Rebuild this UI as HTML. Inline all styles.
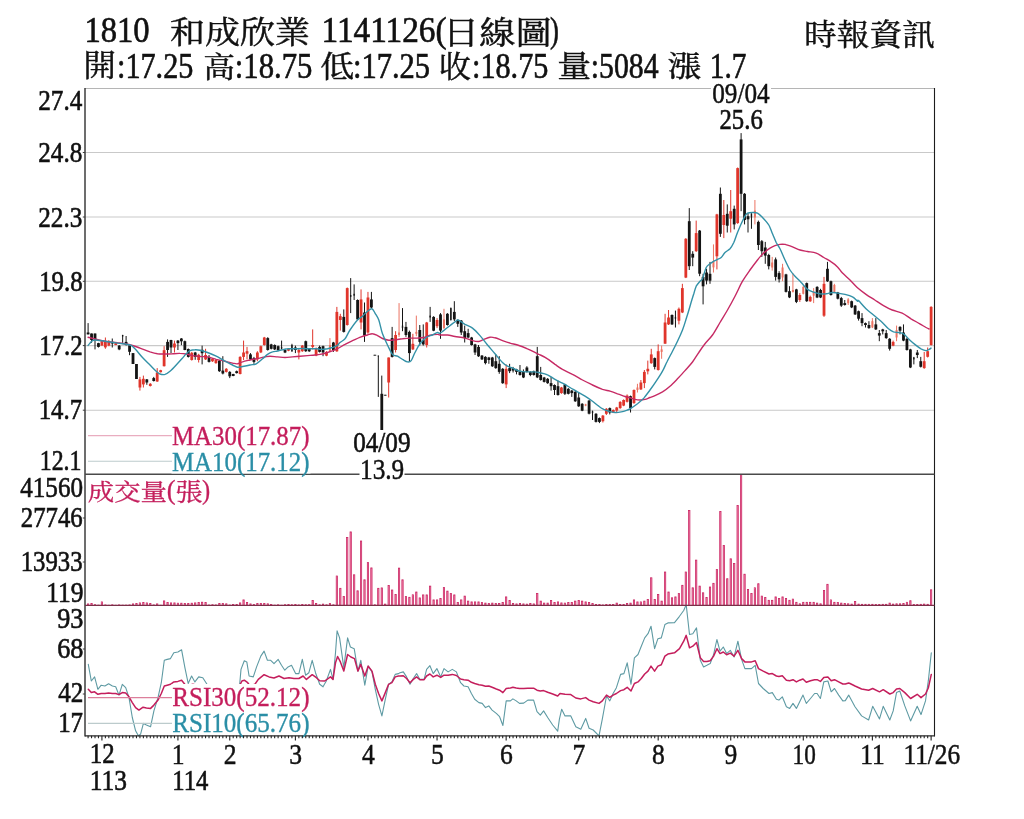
<!DOCTYPE html>
<html lang="zh-Hant"><head><meta charset="utf-8"><title>1810 和成欣業 日線圖</title>
<style>
html,body{margin:0;padding:0;background:#fff;}
svg{display:block;font-family:"Liberation Serif", "Noto Serif CJK SC", "Noto Sans CJK TC", serif;}
</style></head><body>
<svg width="1024" height="819" viewBox="0 0 1024 819">
<rect width="1024" height="819" fill="#fff"/>
<line x1="85" y1="152.5" x2="934.5" y2="152.5" stroke="#c9c9c9" stroke-width="1.1"/>
<line x1="85" y1="217" x2="934.5" y2="217" stroke="#c9c9c9" stroke-width="1.1"/>
<line x1="85" y1="281.3" x2="934.5" y2="281.3" stroke="#c9c9c9" stroke-width="1.1"/>
<line x1="85" y1="345.6" x2="934.5" y2="345.6" stroke="#c9c9c9" stroke-width="1.1"/>
<line x1="85" y1="410.2" x2="934.5" y2="410.2" stroke="#c9c9c9" stroke-width="1.1"/>
<line x1="85" y1="88.5" x2="934.5" y2="88.5" stroke="#b5b5b5" stroke-width="1.1"/>
<g><path d="M88.10 323.1V334.4" stroke="#141414" stroke-width="1"/><rect x="86.70" y="332.5" width="2.8" height="1.9" fill="#141414"/><path d="M91.55 333.5V342.8" stroke="#141414" stroke-width="1"/><rect x="90.15" y="333.5" width="2.8" height="6.5" fill="#141414"/><path d="M95.01 333.5V349.4" stroke="#141414" stroke-width="1"/><rect x="93.61" y="333.5" width="2.8" height="5.9" fill="#141414"/><path d="M98.46 342.8V347.5" stroke="#141414" stroke-width="1"/><rect x="97.06" y="343.1" width="2.8" height="3.8" fill="#141414"/><path d="M101.92 340.6V345.6" stroke="#e0352b" stroke-width="1"/><rect x="100.52" y="341.2" width="2.8" height="4.4" fill="#e0352b"/><path d="M105.38 337.5V348.8" stroke="#e0352b" stroke-width="1"/><rect x="103.97" y="341.2" width="2.8" height="6.2" fill="#e0352b"/><path d="M108.83 340.0V346.2" stroke="#e0352b" stroke-width="1"/><rect x="107.43" y="341.2" width="2.8" height="4.4" fill="#e0352b"/><path d="M112.28 338.5V347.5" stroke="#141414" stroke-width="1"/><rect x="110.88" y="341.9" width="2.8" height="1.6" fill="#141414"/><path d="M115.74 342.8V345.2" stroke="#e0352b" stroke-width="1"/><rect x="114.34" y="343.1" width="2.8" height="1.9" fill="#e0352b"/><path d="M119.19 345.0V350.2" stroke="#141414" stroke-width="1"/><rect x="117.79" y="345.6" width="2.8" height="3.8" fill="#141414"/><path d="M122.65 334.8V342.8" stroke="#141414" stroke-width="1"/><rect x="121.95" y="335.0" width="1.4" height="1.5" fill="#141414"/><path d="M126.10 336.0V345.6" stroke="#141414" stroke-width="1"/><rect x="124.70" y="341.9" width="2.8" height="3.1" fill="#141414"/><path d="M129.56 344.8V355.2" stroke="#141414" stroke-width="1"/><rect x="128.16" y="345.2" width="2.8" height="6.6" fill="#141414"/><path d="M133.01 353.1V364.0" stroke="#141414" stroke-width="1"/><rect x="131.61" y="353.1" width="2.8" height="10.9" fill="#141414"/><path d="M136.47 364.0V379.0" stroke="#141414" stroke-width="1"/><rect x="135.07" y="364.0" width="2.8" height="15.0" fill="#141414"/><path d="M139.93 376.9V390.6" stroke="#e0352b" stroke-width="1"/><rect x="138.53" y="379.4" width="2.8" height="8.1" fill="#e0352b"/><path d="M143.38 375.6V387.5" stroke="#e0352b" stroke-width="1"/><rect x="141.98" y="378.8" width="2.8" height="5.6" fill="#e0352b"/><path d="M146.83 379.0V384.8" stroke="#141414" stroke-width="1"/><rect x="145.43" y="379.4" width="2.8" height="3.1" fill="#141414"/><path d="M150.29 383.1V386.5" stroke="#e0352b" stroke-width="1"/><rect x="148.89" y="383.8" width="2.8" height="2.2" fill="#e0352b"/><path d="M153.75 376.9V381.5" stroke="#141414" stroke-width="1"/><rect x="152.34" y="378.1" width="2.8" height="2.9" fill="#141414"/><path d="M157.20 368.1V381.9" stroke="#e0352b" stroke-width="1"/><rect x="155.80" y="372.5" width="2.8" height="9.0" fill="#e0352b"/><path d="M160.66 369.8V372.5" stroke="#e0352b" stroke-width="1"/><rect x="159.25" y="370.2" width="2.8" height="2.0" fill="#e0352b"/><path d="M164.11 346.2V366.5" stroke="#e0352b" stroke-width="1"/><rect x="162.71" y="350.2" width="2.8" height="16.0" fill="#e0352b"/><path d="M167.56 339.4V356.9" stroke="#141414" stroke-width="1"/><rect x="166.16" y="341.9" width="2.8" height="8.1" fill="#141414"/><path d="M171.02 339.8V353.1" stroke="#141414" stroke-width="1"/><rect x="169.62" y="340.0" width="2.8" height="7.5" fill="#141414"/><path d="M174.47 340.6V352.5" stroke="#e0352b" stroke-width="1"/><rect x="173.07" y="343.5" width="2.8" height="4.0" fill="#e0352b"/><path d="M177.93 340.0V350.0" stroke="#141414" stroke-width="1"/><rect x="176.53" y="340.6" width="2.8" height="2.5" fill="#141414"/><path d="M181.38 338.1V345.2" stroke="#141414" stroke-width="1"/><rect x="179.98" y="338.5" width="2.8" height="2.8" fill="#141414"/><path d="M184.84 340.6V350.2" stroke="#141414" stroke-width="1"/><rect x="183.44" y="341.2" width="2.8" height="8.8" fill="#141414"/><path d="M188.30 348.5V357.5" stroke="#141414" stroke-width="1"/><rect x="186.90" y="349.0" width="2.8" height="7.9" fill="#141414"/><path d="M191.75 351.9V360.6" stroke="#e0352b" stroke-width="1"/><rect x="190.35" y="352.8" width="2.8" height="7.2" fill="#e0352b"/><path d="M195.20 351.9V359.8" stroke="#141414" stroke-width="1"/><rect x="193.80" y="352.5" width="2.8" height="4.4" fill="#141414"/><path d="M198.66 353.8V362.5" stroke="#e0352b" stroke-width="1"/><rect x="197.26" y="354.8" width="2.8" height="5.2" fill="#e0352b"/><path d="M202.12 345.6V364.4" stroke="#141414" stroke-width="1"/><rect x="200.72" y="349.8" width="2.8" height="3.4" fill="#141414"/><path d="M205.57 348.8V360.0" stroke="#e0352b" stroke-width="1"/><rect x="204.17" y="355.0" width="2.8" height="4.4" fill="#e0352b"/><path d="M209.02 355.0V362.5" stroke="#141414" stroke-width="1"/><rect x="207.62" y="356.9" width="2.8" height="5.0" fill="#141414"/><path d="M212.48 358.1V361.9" stroke="#e0352b" stroke-width="1"/><rect x="211.08" y="358.8" width="2.8" height="2.5" fill="#e0352b"/><path d="M215.94 359.4V363.8" stroke="#e0352b" stroke-width="1"/><rect x="214.53" y="360.0" width="2.8" height="3.1" fill="#e0352b"/><path d="M219.39 360.0V371.9" stroke="#141414" stroke-width="1"/><rect x="217.99" y="360.6" width="2.8" height="10.6" fill="#141414"/><path d="M222.84 356.2V374.4" stroke="#141414" stroke-width="1"/><rect x="221.44" y="370.6" width="2.8" height="2.9" fill="#141414"/><path d="M226.30 368.1V372.5" stroke="#e0352b" stroke-width="1"/><rect x="224.90" y="368.8" width="2.8" height="3.1" fill="#e0352b"/><path d="M229.75 371.2V378.1" stroke="#141414" stroke-width="1"/><rect x="228.35" y="371.9" width="2.8" height="4.4" fill="#141414"/><path d="M233.21 373.8V376.2" stroke="#141414" stroke-width="1"/><rect x="231.81" y="374.0" width="2.8" height="2.0" fill="#141414"/><path d="M236.66 370.6V373.5" stroke="#141414" stroke-width="1"/><rect x="235.26" y="371.2" width="2.8" height="1.9" fill="#141414"/><path d="M240.12 356.2V374.4" stroke="#e0352b" stroke-width="1"/><rect x="238.72" y="356.9" width="2.8" height="17.1" fill="#e0352b"/><path d="M243.57 340.6V360.0" stroke="#e0352b" stroke-width="1"/><rect x="242.17" y="352.5" width="2.8" height="4.4" fill="#e0352b"/><path d="M247.03 346.9V359.4" stroke="#e0352b" stroke-width="1"/><rect x="245.63" y="351.2" width="2.8" height="2.5" fill="#e0352b"/><path d="M250.48 353.1V360.0" stroke="#141414" stroke-width="1"/><rect x="249.08" y="354.4" width="2.8" height="5.0" fill="#141414"/><path d="M253.94 356.9V363.8" stroke="#141414" stroke-width="1"/><rect x="252.54" y="358.1" width="2.8" height="3.8" fill="#141414"/><path d="M257.39 351.2V361.2" stroke="#e0352b" stroke-width="1"/><rect x="255.99" y="352.5" width="2.8" height="6.9" fill="#e0352b"/><path d="M260.85 345.6V353.1" stroke="#e0352b" stroke-width="1"/><rect x="259.45" y="346.2" width="2.8" height="6.2" fill="#e0352b"/><path d="M264.31 336.9V345.6" stroke="#e0352b" stroke-width="1"/><rect x="262.91" y="337.5" width="2.8" height="7.5" fill="#e0352b"/><path d="M267.76 337.2V350.6" stroke="#141414" stroke-width="1"/><rect x="266.36" y="338.1" width="2.8" height="11.9" fill="#141414"/><path d="M271.22 343.8V349.4" stroke="#141414" stroke-width="1"/><rect x="269.82" y="344.4" width="2.8" height="4.4" fill="#141414"/><path d="M274.67 344.4V350.0" stroke="#141414" stroke-width="1"/><rect x="273.27" y="345.0" width="2.8" height="4.4" fill="#141414"/><path d="M278.12 345.6V351.2" stroke="#141414" stroke-width="1"/><rect x="276.73" y="346.2" width="2.8" height="3.8" fill="#141414"/><path d="M281.58 340.6V349.4" stroke="#141414" stroke-width="1"/><rect x="280.88" y="346.9" width="1.4" height="1.9" fill="#141414"/><path d="M285.03 349.4V353.1" stroke="#141414" stroke-width="1"/><rect x="283.63" y="350.0" width="2.8" height="2.5" fill="#141414"/><path d="M288.49 348.1V351.2" stroke="#e0352b" stroke-width="1"/><rect x="287.09" y="348.8" width="2.8" height="1.9" fill="#e0352b"/><path d="M291.94 343.8V351.9" stroke="#141414" stroke-width="1"/><rect x="291.25" y="345.0" width="1.4" height="6.2" fill="#141414"/><path d="M295.40 345.6V353.1" stroke="#141414" stroke-width="1"/><rect x="294.00" y="347.5" width="2.8" height="2.5" fill="#141414"/><path d="M298.86 348.8V359.4" stroke="#e0352b" stroke-width="1"/><rect x="297.46" y="350.0" width="2.8" height="2.5" fill="#e0352b"/><path d="M302.31 345.0V351.9" stroke="#e0352b" stroke-width="1"/><rect x="300.91" y="345.6" width="2.8" height="5.6" fill="#e0352b"/><path d="M305.76 340.6V351.9" stroke="#141414" stroke-width="1"/><rect x="304.37" y="341.2" width="2.8" height="10.0" fill="#141414"/><path d="M309.22 348.1V351.9" stroke="#141414" stroke-width="1"/><rect x="307.82" y="348.8" width="2.8" height="2.5" fill="#141414"/><path d="M312.68 329.4V349.4" stroke="#e0352b" stroke-width="1"/><rect x="311.28" y="345.0" width="2.8" height="1.9" fill="#e0352b"/><path d="M316.13 347.5V356.2" stroke="#e0352b" stroke-width="1"/><rect x="314.73" y="348.1" width="2.8" height="7.5" fill="#e0352b"/><path d="M319.59 345.6V352.5" stroke="#141414" stroke-width="1"/><rect x="318.19" y="346.9" width="2.8" height="5.0" fill="#141414"/><path d="M323.04 345.6V356.2" stroke="#141414" stroke-width="1"/><rect x="321.64" y="346.2" width="2.8" height="6.2" fill="#141414"/><path d="M326.50 351.2V356.2" stroke="#e0352b" stroke-width="1"/><rect x="325.10" y="351.9" width="2.8" height="3.8" fill="#e0352b"/><path d="M329.95 338.1V351.9" stroke="#ec7463" stroke-width="1"/><rect x="328.95" y="345.0" width="2.0" height="6.2" fill="#ec7463"/><path d="M333.40 341.9V351.9" stroke="#141414" stroke-width="1"/><rect x="332.00" y="342.5" width="2.8" height="7.5" fill="#141414"/><path d="M336.86 306.9V351.9" stroke="#e0352b" stroke-width="1"/><rect x="335.46" y="311.9" width="2.8" height="39.4" fill="#e0352b"/><path d="M340.31 313.8V330.6" stroke="#e0352b" stroke-width="1"/><rect x="338.92" y="316.2" width="2.8" height="3.8" fill="#e0352b"/><path d="M343.77 309.4V332.5" stroke="#141414" stroke-width="1"/><rect x="342.37" y="316.9" width="2.8" height="15.0" fill="#141414"/><path d="M347.23 287.5V325.6" stroke="#e0352b" stroke-width="1"/><rect x="345.83" y="288.1" width="2.8" height="36.9" fill="#e0352b"/><path d="M350.68 278.1V313.1" stroke="#141414" stroke-width="1"/><rect x="349.98" y="295.0" width="1.4" height="1.9" fill="#141414"/><path d="M354.13 284.4V300.0" stroke="#141414" stroke-width="1"/><rect x="353.44" y="293.8" width="1.4" height="1.9" fill="#141414"/><path d="M357.59 299.4V320.0" stroke="#141414" stroke-width="1"/><rect x="356.19" y="300.0" width="2.8" height="19.4" fill="#141414"/><path d="M361.04 289.4V329.4" stroke="#e0352b" stroke-width="1"/><rect x="359.64" y="299.4" width="2.8" height="23.1" fill="#e0352b"/><path d="M364.50 302.5V341.9" stroke="#141414" stroke-width="1"/><rect x="363.10" y="312.5" width="2.8" height="23.1" fill="#141414"/><path d="M367.96 291.9V333.8" stroke="#e0352b" stroke-width="1"/><rect x="366.56" y="297.5" width="2.8" height="35.0" fill="#e0352b"/><path d="M371.41 291.9V308.1" stroke="#141414" stroke-width="1"/><rect x="370.01" y="299.4" width="2.8" height="8.1" fill="#141414"/><path d="M374.87 354.8V355.5" stroke="#141414" stroke-width="1"/><rect x="373.47" y="354.8" width="2.8" height="0.8" fill="#141414"/><path d="M378.32 355.6V396.9" stroke="#141414" stroke-width="1"/><rect x="377.62" y="355.6" width="1.4" height="0.8" fill="#141414"/><path d="M381.77 375.6V430.0" stroke="#141414" stroke-width="1"/><rect x="380.38" y="393.8" width="2.8" height="36.2" fill="#141414"/><path d="M385.23 394.8V395.5" stroke="#141414" stroke-width="1"/><rect x="383.83" y="394.8" width="2.8" height="0.8" fill="#141414"/><path d="M388.68 357.5V397.5" stroke="#e0352b" stroke-width="1"/><rect x="387.28" y="357.5" width="2.8" height="25.0" fill="#e0352b"/><path d="M392.14 326.9V357.5" stroke="#141414" stroke-width="1"/><rect x="390.74" y="338.1" width="2.8" height="18.8" fill="#141414"/><path d="M395.60 331.2V352.5" stroke="#e0352b" stroke-width="1"/><rect x="394.20" y="335.0" width="2.8" height="15.0" fill="#e0352b"/><path d="M399.05 303.1V336.9" stroke="#ec7463" stroke-width="1"/><rect x="398.05" y="332.5" width="2.0" height="2.5" fill="#ec7463"/><path d="M402.50 308.1V331.2" stroke="#141414" stroke-width="1"/><rect x="401.81" y="325.6" width="1.4" height="2.5" fill="#141414"/><path d="M405.96 321.9V336.9" stroke="#141414" stroke-width="1"/><rect x="404.56" y="326.9" width="2.8" height="8.1" fill="#141414"/><path d="M409.41 330.6V361.2" stroke="#141414" stroke-width="1"/><rect x="408.01" y="331.9" width="2.8" height="21.2" fill="#141414"/><path d="M412.87 333.8V350.0" stroke="#e0352b" stroke-width="1"/><rect x="411.47" y="343.8" width="2.8" height="5.6" fill="#e0352b"/><path d="M416.33 315.6V336.2" stroke="#ec7463" stroke-width="1"/><rect x="415.33" y="331.9" width="2.0" height="1.9" fill="#ec7463"/><path d="M419.78 325.0V345.6" stroke="#141414" stroke-width="1"/><rect x="418.38" y="330.0" width="2.8" height="11.9" fill="#141414"/><path d="M423.24 324.4V345.6" stroke="#141414" stroke-width="1"/><rect x="421.84" y="340.0" width="2.8" height="4.4" fill="#141414"/><path d="M426.69 321.9V347.5" stroke="#e0352b" stroke-width="1"/><rect x="425.29" y="322.5" width="2.8" height="22.5" fill="#e0352b"/><path d="M430.14 306.9V321.9" stroke="#141414" stroke-width="1"/><rect x="429.44" y="315.6" width="1.4" height="1.9" fill="#141414"/><path d="M433.60 316.2V331.2" stroke="#141414" stroke-width="1"/><rect x="432.20" y="316.9" width="2.8" height="13.8" fill="#141414"/><path d="M437.05 318.1V328.1" stroke="#e0352b" stroke-width="1"/><rect x="435.65" y="320.0" width="2.8" height="6.2" fill="#e0352b"/><path d="M440.51 313.1V338.8" stroke="#141414" stroke-width="1"/><rect x="439.11" y="314.4" width="2.8" height="16.2" fill="#141414"/><path d="M443.97 308.8V328.8" stroke="#ec7463" stroke-width="1"/><rect x="442.97" y="319.4" width="2.0" height="8.8" fill="#ec7463"/><path d="M447.42 313.1V325.6" stroke="#141414" stroke-width="1"/><rect x="446.02" y="313.8" width="2.8" height="11.2" fill="#141414"/><path d="M450.88 307.5V320.6" stroke="#141414" stroke-width="1"/><rect x="450.18" y="308.1" width="1.4" height="11.9" fill="#141414"/><path d="M454.33 301.2V321.2" stroke="#141414" stroke-width="1"/><rect x="452.93" y="311.9" width="2.8" height="7.5" fill="#141414"/><path d="M457.78 319.4V326.9" stroke="#141414" stroke-width="1"/><rect x="456.38" y="320.0" width="2.8" height="3.8" fill="#141414"/><path d="M461.24 320.0V335.0" stroke="#141414" stroke-width="1"/><rect x="459.84" y="320.6" width="2.8" height="11.9" fill="#141414"/><path d="M464.70 325.6V342.5" stroke="#141414" stroke-width="1"/><rect x="463.30" y="331.2" width="2.8" height="6.9" fill="#141414"/><path d="M468.15 328.8V338.1" stroke="#141414" stroke-width="1"/><rect x="466.75" y="333.1" width="2.8" height="4.4" fill="#141414"/><path d="M471.61 336.9V345.6" stroke="#141414" stroke-width="1"/><rect x="470.21" y="337.5" width="2.8" height="7.5" fill="#141414"/><path d="M475.06 343.8V355.0" stroke="#141414" stroke-width="1"/><rect x="473.66" y="344.4" width="2.8" height="8.1" fill="#141414"/><path d="M478.51 345.0V356.9" stroke="#141414" stroke-width="1"/><rect x="477.12" y="346.9" width="2.8" height="9.4" fill="#141414"/><path d="M481.97 355.0V360.0" stroke="#141414" stroke-width="1"/><rect x="480.57" y="355.6" width="2.8" height="3.8" fill="#141414"/><path d="M485.42 356.2V364.4" stroke="#141414" stroke-width="1"/><rect x="484.02" y="356.9" width="2.8" height="6.2" fill="#141414"/><path d="M488.88 356.9V363.8" stroke="#141414" stroke-width="1"/><rect x="487.48" y="357.5" width="2.8" height="2.5" fill="#141414"/><path d="M492.34 356.9V366.9" stroke="#141414" stroke-width="1"/><rect x="490.94" y="357.5" width="2.8" height="8.8" fill="#141414"/><path d="M495.79 354.4V368.8" stroke="#141414" stroke-width="1"/><rect x="494.39" y="361.2" width="2.8" height="6.9" fill="#141414"/><path d="M499.25 356.2V373.8" stroke="#141414" stroke-width="1"/><rect x="497.85" y="363.8" width="2.8" height="8.1" fill="#141414"/><path d="M502.70 368.1V383.8" stroke="#141414" stroke-width="1"/><rect x="501.30" y="368.8" width="2.8" height="14.4" fill="#141414"/><path d="M506.15 364.4V388.1" stroke="#e0352b" stroke-width="1"/><rect x="504.75" y="368.8" width="2.8" height="15.6" fill="#e0352b"/><path d="M509.61 363.8V373.1" stroke="#141414" stroke-width="1"/><rect x="508.21" y="368.1" width="2.8" height="3.1" fill="#141414"/><path d="M513.07 366.9V372.5" stroke="#141414" stroke-width="1"/><rect x="511.67" y="368.1" width="2.8" height="2.5" fill="#141414"/><path d="M516.52 368.8V374.4" stroke="#141414" stroke-width="1"/><rect x="515.12" y="369.4" width="2.8" height="2.5" fill="#141414"/><path d="M519.98 365.0V375.6" stroke="#141414" stroke-width="1"/><rect x="518.58" y="371.2" width="2.8" height="3.8" fill="#141414"/><path d="M523.43 369.4V378.1" stroke="#141414" stroke-width="1"/><rect x="522.03" y="371.9" width="2.8" height="5.6" fill="#141414"/><path d="M526.88 366.2V372.5" stroke="#141414" stroke-width="1"/><rect x="525.49" y="367.5" width="2.8" height="4.4" fill="#141414"/><path d="M530.34 371.2V376.2" stroke="#141414" stroke-width="1"/><rect x="528.94" y="371.9" width="2.8" height="3.1" fill="#141414"/><path d="M533.79 370.6V375.6" stroke="#141414" stroke-width="1"/><rect x="532.39" y="371.2" width="2.8" height="3.8" fill="#141414"/><path d="M537.25 346.9V378.1" stroke="#141414" stroke-width="1"/><rect x="535.85" y="356.2" width="2.8" height="21.2" fill="#141414"/><path d="M540.71 366.9V380.6" stroke="#141414" stroke-width="1"/><rect x="539.31" y="375.0" width="2.8" height="5.0" fill="#141414"/><path d="M544.16 376.9V382.5" stroke="#141414" stroke-width="1"/><rect x="542.76" y="377.5" width="2.8" height="4.4" fill="#141414"/><path d="M547.62 378.1V383.8" stroke="#141414" stroke-width="1"/><rect x="546.22" y="378.8" width="2.8" height="4.4" fill="#141414"/><path d="M551.07 376.9V390.6" stroke="#141414" stroke-width="1"/><rect x="549.67" y="383.1" width="2.8" height="3.1" fill="#141414"/><path d="M554.52 384.4V395.0" stroke="#141414" stroke-width="1"/><rect x="553.12" y="385.0" width="2.8" height="5.0" fill="#141414"/><path d="M557.98 380.6V395.6" stroke="#141414" stroke-width="1"/><rect x="556.58" y="386.2" width="2.8" height="8.8" fill="#141414"/><path d="M561.44 386.9V393.8" stroke="#e0352b" stroke-width="1"/><rect x="560.04" y="387.5" width="2.8" height="5.6" fill="#e0352b"/><path d="M564.89 383.8V395.0" stroke="#141414" stroke-width="1"/><rect x="563.49" y="384.4" width="2.8" height="9.4" fill="#141414"/><path d="M568.35 388.1V394.4" stroke="#141414" stroke-width="1"/><rect x="566.95" y="388.8" width="2.8" height="5.0" fill="#141414"/><path d="M571.80 390.0V396.9" stroke="#141414" stroke-width="1"/><rect x="570.40" y="390.6" width="2.8" height="2.5" fill="#141414"/><path d="M575.25 390.6V401.9" stroke="#141414" stroke-width="1"/><rect x="573.86" y="391.9" width="2.8" height="9.4" fill="#141414"/><path d="M578.71 392.5V406.9" stroke="#141414" stroke-width="1"/><rect x="577.31" y="397.5" width="2.8" height="8.8" fill="#141414"/><path d="M582.16 403.1V411.2" stroke="#141414" stroke-width="1"/><rect x="580.76" y="403.8" width="2.8" height="6.9" fill="#141414"/><path d="M585.62 403.8V406.2" stroke="#ec7463" stroke-width="1"/><rect x="584.62" y="404.4" width="2.0" height="1.2" fill="#ec7463"/><path d="M589.08 400.0V414.4" stroke="#141414" stroke-width="1"/><rect x="587.68" y="400.6" width="2.8" height="13.1" fill="#141414"/><path d="M592.53 410.6V420.0" stroke="#141414" stroke-width="1"/><rect x="591.83" y="411.2" width="1.4" height="1.9" fill="#141414"/><path d="M595.99 413.1V422.5" stroke="#141414" stroke-width="1"/><rect x="594.59" y="413.8" width="2.8" height="8.1" fill="#141414"/><path d="M599.44 417.5V423.1" stroke="#141414" stroke-width="1"/><rect x="598.04" y="418.1" width="2.8" height="3.8" fill="#141414"/><path d="M602.89 415.0V422.5" stroke="#e0352b" stroke-width="1"/><rect x="601.50" y="415.6" width="2.8" height="5.6" fill="#e0352b"/><path d="M606.35 408.1V415.0" stroke="#e0352b" stroke-width="1"/><rect x="604.95" y="408.8" width="2.8" height="5.0" fill="#e0352b"/><path d="M609.81 407.5V414.4" stroke="#141414" stroke-width="1"/><rect x="608.41" y="408.1" width="2.8" height="4.4" fill="#141414"/><path d="M613.26 409.4V413.1" stroke="#e0352b" stroke-width="1"/><rect x="611.86" y="410.0" width="2.8" height="2.5" fill="#e0352b"/><path d="M616.72 406.9V413.1" stroke="#e0352b" stroke-width="1"/><rect x="615.32" y="407.5" width="2.8" height="3.1" fill="#e0352b"/><path d="M620.17 401.2V408.8" stroke="#e0352b" stroke-width="1"/><rect x="618.77" y="401.9" width="2.8" height="6.2" fill="#e0352b"/><path d="M623.62 399.4V406.2" stroke="#e0352b" stroke-width="1"/><rect x="622.23" y="400.0" width="2.8" height="5.6" fill="#e0352b"/><path d="M627.08 394.4V402.5" stroke="#e0352b" stroke-width="1"/><rect x="625.68" y="395.6" width="2.8" height="6.2" fill="#e0352b"/><path d="M630.54 395.6V412.5" stroke="#141414" stroke-width="1"/><rect x="629.14" y="396.2" width="2.8" height="11.9" fill="#141414"/><path d="M633.99 389.4V403.8" stroke="#e0352b" stroke-width="1"/><rect x="632.59" y="390.0" width="2.8" height="13.1" fill="#e0352b"/><path d="M637.45 383.8V392.5" stroke="#ec7463" stroke-width="1"/><rect x="636.45" y="387.5" width="2.0" height="2.5" fill="#ec7463"/><path d="M640.90 380.0V390.0" stroke="#e0352b" stroke-width="1"/><rect x="639.50" y="382.5" width="2.8" height="6.9" fill="#e0352b"/><path d="M644.36 370.0V388.1" stroke="#e0352b" stroke-width="1"/><rect x="642.96" y="371.9" width="2.8" height="11.2" fill="#e0352b"/><path d="M647.81 360.6V374.4" stroke="#e0352b" stroke-width="1"/><rect x="646.41" y="368.8" width="2.8" height="2.5" fill="#e0352b"/><path d="M651.26 348.8V363.8" stroke="#e0352b" stroke-width="1"/><rect x="649.87" y="354.4" width="2.8" height="8.8" fill="#e0352b"/><path d="M654.72 357.5V369.4" stroke="#141414" stroke-width="1"/><rect x="653.32" y="358.1" width="2.8" height="8.8" fill="#141414"/><path d="M658.18 344.4V370.6" stroke="#e0352b" stroke-width="1"/><rect x="656.78" y="351.2" width="2.8" height="18.8" fill="#e0352b"/><path d="M661.63 345.6V358.8" stroke="#ec7463" stroke-width="1"/><rect x="660.63" y="349.4" width="2.0" height="2.5" fill="#ec7463"/><path d="M665.09 313.8V343.8" stroke="#e0352b" stroke-width="1"/><rect x="663.69" y="322.5" width="2.8" height="21.2" fill="#e0352b"/><path d="M668.54 310.0V325.0" stroke="#e0352b" stroke-width="1"/><rect x="667.14" y="317.5" width="2.8" height="6.9" fill="#e0352b"/><path d="M672.00 314.4V325.0" stroke="#141414" stroke-width="1"/><rect x="670.60" y="315.0" width="2.8" height="9.4" fill="#141414"/><path d="M675.45 310.6V327.5" stroke="#141414" stroke-width="1"/><rect x="674.75" y="316.9" width="1.4" height="1.9" fill="#141414"/><path d="M678.91 307.5V324.4" stroke="#e0352b" stroke-width="1"/><rect x="677.51" y="308.8" width="2.8" height="11.9" fill="#e0352b"/><path d="M682.36 283.8V313.1" stroke="#e0352b" stroke-width="1"/><rect x="680.96" y="288.1" width="2.8" height="24.4" fill="#e0352b"/><path d="M685.82 238.1V278.1" stroke="#e0352b" stroke-width="1"/><rect x="684.42" y="238.8" width="2.8" height="38.8" fill="#e0352b"/><path d="M689.27 208.1V270.0" stroke="#141414" stroke-width="1"/><rect x="687.87" y="221.2" width="2.8" height="45.0" fill="#141414"/><path d="M692.73 251.2V266.2" stroke="#141414" stroke-width="1"/><rect x="691.33" y="253.8" width="2.8" height="3.8" fill="#141414"/><path d="M696.18 220.6V251.9" stroke="#e0352b" stroke-width="1"/><rect x="694.78" y="233.1" width="2.8" height="18.1" fill="#e0352b"/><path d="M699.63 230.0V276.2" stroke="#141414" stroke-width="1"/><rect x="698.24" y="230.6" width="2.8" height="43.1" fill="#141414"/><path d="M703.09 273.8V304.4" stroke="#141414" stroke-width="1"/><rect x="701.69" y="276.9" width="2.8" height="9.4" fill="#141414"/><path d="M706.55 268.8V284.4" stroke="#141414" stroke-width="1"/><rect x="705.15" y="272.5" width="2.8" height="8.1" fill="#141414"/><path d="M710.00 261.9V283.8" stroke="#141414" stroke-width="1"/><rect x="708.60" y="273.8" width="2.8" height="6.9" fill="#141414"/><path d="M713.46 244.4V272.5" stroke="#ec7463" stroke-width="1"/><rect x="712.46" y="261.2" width="2.0" height="6.2" fill="#ec7463"/><path d="M716.91 213.8V269.4" stroke="#e0352b" stroke-width="1"/><rect x="715.51" y="214.4" width="2.8" height="41.9" fill="#e0352b"/><path d="M720.37 187.5V236.9" stroke="#141414" stroke-width="1"/><rect x="718.97" y="193.8" width="2.8" height="40.0" fill="#141414"/><path d="M723.82 200.0V238.1" stroke="#e0352b" stroke-width="1"/><rect x="722.42" y="215.0" width="2.8" height="10.0" fill="#e0352b"/><path d="M727.28 204.4V232.5" stroke="#141414" stroke-width="1"/><rect x="725.88" y="213.8" width="2.8" height="11.9" fill="#141414"/><path d="M730.73 190.0V232.5" stroke="#e0352b" stroke-width="1"/><rect x="729.33" y="211.2" width="2.8" height="7.5" fill="#e0352b"/><path d="M734.19 205.6V229.4" stroke="#141414" stroke-width="1"/><rect x="732.79" y="208.8" width="2.8" height="15.6" fill="#141414"/><path d="M737.64 167.5V223.8" stroke="#e0352b" stroke-width="1"/><rect x="736.24" y="168.1" width="2.8" height="55.0" fill="#e0352b"/><path d="M741.10 133.1V211.2" stroke="#141414" stroke-width="1"/><rect x="739.70" y="139.4" width="2.8" height="54.4" fill="#141414"/><path d="M744.55 193.1V224.4" stroke="#141414" stroke-width="1"/><rect x="743.15" y="193.8" width="2.8" height="26.2" fill="#141414"/><path d="M748.00 213.1V232.5" stroke="#141414" stroke-width="1"/><rect x="746.61" y="216.2" width="2.8" height="3.1" fill="#141414"/><path d="M751.46 213.1V228.8" stroke="#141414" stroke-width="1"/><rect x="750.76" y="213.8" width="1.4" height="3.8" fill="#141414"/><path d="M754.92 200.0V224.4" stroke="#ec7463" stroke-width="1"/><rect x="753.92" y="210.6" width="2.0" height="6.9" fill="#ec7463"/><path d="M758.37 220.6V250.0" stroke="#141414" stroke-width="1"/><rect x="756.97" y="221.9" width="2.8" height="23.1" fill="#141414"/><path d="M761.83 240.0V256.9" stroke="#141414" stroke-width="1"/><rect x="760.43" y="241.2" width="2.8" height="10.0" fill="#141414"/><path d="M765.28 241.9V263.8" stroke="#141414" stroke-width="1"/><rect x="763.88" y="247.5" width="2.8" height="8.1" fill="#141414"/><path d="M768.74 253.8V269.4" stroke="#141414" stroke-width="1"/><rect x="767.34" y="255.0" width="2.8" height="11.2" fill="#141414"/><path d="M772.19 256.9V270.6" stroke="#ec7463" stroke-width="1"/><rect x="771.19" y="262.5" width="2.0" height="5.0" fill="#ec7463"/><path d="M775.64 257.5V280.6" stroke="#141414" stroke-width="1"/><rect x="774.25" y="259.4" width="2.8" height="17.5" fill="#141414"/><path d="M779.10 271.2V282.5" stroke="#141414" stroke-width="1"/><rect x="777.70" y="273.1" width="2.8" height="6.2" fill="#141414"/><path d="M782.56 263.8V281.2" stroke="#ec7463" stroke-width="1"/><rect x="781.56" y="267.5" width="2.0" height="10.0" fill="#ec7463"/><path d="M786.01 273.8V292.5" stroke="#141414" stroke-width="1"/><rect x="784.61" y="274.4" width="2.8" height="17.5" fill="#141414"/><path d="M789.47 286.2V298.1" stroke="#141414" stroke-width="1"/><rect x="788.07" y="291.2" width="2.8" height="6.2" fill="#141414"/><path d="M792.92 273.1V292.5" stroke="#ec7463" stroke-width="1"/><rect x="791.92" y="290.0" width="2.0" height="1.9" fill="#ec7463"/><path d="M796.38 288.8V303.1" stroke="#141414" stroke-width="1"/><rect x="794.98" y="289.4" width="2.8" height="12.5" fill="#141414"/><path d="M799.83 293.1V301.9" stroke="#e0352b" stroke-width="1"/><rect x="798.43" y="295.0" width="2.8" height="5.0" fill="#e0352b"/><path d="M803.29 285.6V294.4" stroke="#ec7463" stroke-width="1"/><rect x="802.29" y="286.9" width="2.0" height="6.9" fill="#ec7463"/><path d="M806.74 282.5V301.9" stroke="#141414" stroke-width="1"/><rect x="805.34" y="283.1" width="2.8" height="18.1" fill="#141414"/><path d="M810.20 295.6V301.9" stroke="#e0352b" stroke-width="1"/><rect x="808.80" y="296.9" width="2.8" height="4.4" fill="#e0352b"/><path d="M813.65 288.1V303.1" stroke="#ec7463" stroke-width="1"/><rect x="812.65" y="291.9" width="2.0" height="3.8" fill="#ec7463"/><path d="M817.11 286.2V298.1" stroke="#141414" stroke-width="1"/><rect x="815.71" y="286.9" width="2.8" height="10.6" fill="#141414"/><path d="M820.56 288.8V298.1" stroke="#141414" stroke-width="1"/><rect x="819.16" y="290.0" width="2.8" height="7.5" fill="#141414"/><path d="M824.01 276.9V316.9" stroke="#e0352b" stroke-width="1"/><rect x="822.62" y="283.8" width="2.8" height="31.9" fill="#e0352b"/><path d="M827.47 261.9V281.9" stroke="#141414" stroke-width="1"/><rect x="826.07" y="268.8" width="2.8" height="12.5" fill="#141414"/><path d="M830.93 280.6V295.6" stroke="#141414" stroke-width="1"/><rect x="829.53" y="281.2" width="2.8" height="13.8" fill="#141414"/><path d="M834.38 283.8V292.5" stroke="#ec7463" stroke-width="1"/><rect x="833.38" y="285.0" width="2.0" height="6.9" fill="#ec7463"/><path d="M837.84 291.9V299.4" stroke="#141414" stroke-width="1"/><rect x="836.44" y="292.5" width="2.8" height="6.2" fill="#141414"/><path d="M841.29 296.9V306.9" stroke="#141414" stroke-width="1"/><rect x="839.89" y="298.1" width="2.8" height="7.5" fill="#141414"/><path d="M844.75 300.0V305.6" stroke="#141414" stroke-width="1"/><rect x="843.35" y="303.1" width="2.8" height="1.9" fill="#141414"/><path d="M848.20 298.1V305.0" stroke="#ec7463" stroke-width="1"/><rect x="847.20" y="299.4" width="2.0" height="3.8" fill="#ec7463"/><path d="M851.66 300.6V308.1" stroke="#141414" stroke-width="1"/><rect x="850.26" y="301.2" width="2.8" height="6.2" fill="#141414"/><path d="M855.11 305.0V315.0" stroke="#141414" stroke-width="1"/><rect x="853.71" y="305.6" width="2.8" height="8.8" fill="#141414"/><path d="M858.57 310.6V320.6" stroke="#141414" stroke-width="1"/><rect x="857.17" y="311.2" width="2.8" height="7.5" fill="#141414"/><path d="M862.02 313.1V326.2" stroke="#141414" stroke-width="1"/><rect x="860.62" y="318.1" width="2.8" height="5.0" fill="#141414"/><path d="M865.48 322.5V327.5" stroke="#141414" stroke-width="1"/><rect x="864.08" y="323.1" width="2.8" height="1.9" fill="#141414"/><path d="M868.93 321.2V328.8" stroke="#141414" stroke-width="1"/><rect x="867.53" y="325.0" width="2.8" height="3.1" fill="#141414"/><path d="M872.38 318.1V328.1" stroke="#ec7463" stroke-width="1"/><rect x="871.38" y="321.2" width="2.0" height="6.2" fill="#ec7463"/><path d="M875.84 318.1V330.0" stroke="#141414" stroke-width="1"/><rect x="874.44" y="324.4" width="2.8" height="5.0" fill="#141414"/><path d="M879.30 330.0V341.2" stroke="#141414" stroke-width="1"/><rect x="877.90" y="333.1" width="2.8" height="2.5" fill="#141414"/><path d="M882.75 328.8V334.4" stroke="#141414" stroke-width="1"/><rect x="881.35" y="329.4" width="2.8" height="1.9" fill="#141414"/><path d="M886.21 330.0V338.8" stroke="#141414" stroke-width="1"/><rect x="884.81" y="333.1" width="2.8" height="5.0" fill="#141414"/><path d="M889.66 338.1V350.6" stroke="#141414" stroke-width="1"/><rect x="888.26" y="338.8" width="2.8" height="10.0" fill="#141414"/><path d="M893.12 340.6V346.2" stroke="#e0352b" stroke-width="1"/><rect x="891.72" y="341.9" width="2.8" height="3.8" fill="#e0352b"/><path d="M896.57 325.6V341.2" stroke="#ec7463" stroke-width="1"/><rect x="895.57" y="330.0" width="2.0" height="7.5" fill="#ec7463"/><path d="M900.03 326.2V334.4" stroke="#141414" stroke-width="1"/><rect x="898.63" y="326.9" width="2.8" height="3.8" fill="#141414"/><path d="M903.48 324.4V341.2" stroke="#141414" stroke-width="1"/><rect x="902.08" y="332.5" width="2.8" height="8.1" fill="#141414"/><path d="M906.94 337.5V350.6" stroke="#141414" stroke-width="1"/><rect x="905.54" y="338.8" width="2.8" height="11.2" fill="#141414"/><path d="M910.39 348.8V368.1" stroke="#141414" stroke-width="1"/><rect x="908.99" y="349.4" width="2.8" height="18.1" fill="#141414"/><path d="M913.85 356.9V364.4" stroke="#141414" stroke-width="1"/><rect x="913.14" y="357.5" width="1.4" height="1.9" fill="#141414"/><path d="M917.30 350.0V358.1" stroke="#141414" stroke-width="1"/><rect x="915.90" y="352.5" width="2.8" height="2.5" fill="#141414"/><path d="M920.75 356.9V367.5" stroke="#141414" stroke-width="1"/><rect x="919.36" y="361.2" width="2.8" height="5.6" fill="#141414"/><path d="M924.21 351.9V368.8" stroke="#e0352b" stroke-width="1"/><rect x="922.81" y="361.2" width="2.8" height="6.9" fill="#e0352b"/><path d="M927.67 347.5V357.5" stroke="#e0352b" stroke-width="1"/><rect x="926.27" y="351.2" width="2.8" height="5.6" fill="#e0352b"/><path d="M931.12 306.2V345.6" stroke="#e0352b" stroke-width="1"/><rect x="929.72" y="306.9" width="2.8" height="38.1" fill="#e0352b"/></g>
<path d="M88.1 337.2C89.3 337.5 92.2 338.3 95.0 339.0C97.8 339.7 101.2 340.6 105.0 341.2C108.8 341.9 113.3 342.2 117.5 342.8C121.7 343.3 126.2 343.9 130.0 344.8C133.8 345.6 136.7 346.9 140.0 348.1C143.3 349.3 147.1 350.9 150.0 351.9C152.9 352.8 155.0 353.4 157.5 353.8C160.0 354.1 162.5 354.0 165.0 354.0C167.5 354.0 170.0 353.9 172.5 353.8C175.0 353.6 177.7 353.3 180.0 353.4C182.3 353.4 184.2 353.6 186.2 354.0C188.3 354.4 190.2 355.2 192.5 355.6C194.8 356.0 197.5 356.3 200.0 356.5C202.5 356.7 204.8 356.4 207.5 356.9C210.2 357.4 213.3 358.6 216.2 359.4C219.2 360.1 222.3 360.6 225.0 361.2C227.7 361.9 230.4 362.7 232.5 363.1C234.6 363.5 235.8 364.0 237.5 363.8C239.2 363.5 240.4 362.5 242.5 361.9C244.6 361.2 247.5 360.6 250.0 360.0C252.5 359.4 255.0 359.0 257.5 358.5C260.0 358.0 262.9 357.2 265.0 356.9C267.1 356.5 267.9 356.2 270.0 356.2C272.1 356.2 275.0 356.7 277.5 356.9C280.0 357.1 282.5 357.5 285.0 357.5C287.5 357.5 290.0 357.1 292.5 356.9C295.0 356.7 297.5 356.5 300.0 356.2C302.5 356.0 305.0 355.8 307.5 355.6C310.0 355.4 312.9 355.2 315.0 355.0C317.1 354.8 317.9 354.8 320.0 354.4C322.1 354.0 324.8 353.3 327.5 352.5C330.2 351.7 333.3 350.7 336.2 349.4C339.2 348.0 342.3 345.8 345.0 344.4C347.7 342.9 349.8 341.9 352.5 340.6C355.2 339.4 358.8 337.8 361.2 336.9C363.8 335.9 365.6 335.5 367.5 335.0C369.4 334.5 370.8 333.6 372.5 333.8C374.2 333.9 375.8 334.8 377.5 335.6C379.2 336.4 380.6 337.7 382.5 338.5C384.4 339.3 386.7 340.0 388.8 340.2C390.8 340.5 392.7 340.0 395.0 339.8C397.3 339.5 400.0 339.0 402.5 338.8C405.0 338.5 407.5 338.2 410.0 338.1C412.5 338.0 415.2 338.2 417.5 338.1C419.8 338.0 421.7 338.0 423.8 337.5C425.8 337.0 427.7 335.8 430.0 335.2C432.3 334.7 435.8 334.4 437.5 334.4C439.2 334.3 438.3 334.9 440.0 335.0C441.7 335.1 445.0 334.8 447.5 335.0C450.0 335.2 452.1 336.0 455.0 336.5C457.9 337.0 462.1 337.4 465.0 338.1C467.9 338.8 470.2 340.1 472.5 340.6C474.8 341.2 476.9 341.7 478.8 341.5C480.6 341.3 481.9 340.1 483.8 339.4C485.6 338.7 488.1 337.5 490.0 337.2C491.9 337.0 492.9 337.2 495.0 337.8C497.1 338.3 500.0 339.7 502.5 340.6C505.0 341.5 507.5 342.4 510.0 343.1C512.5 343.9 514.6 344.1 517.5 345.0C520.4 345.9 524.2 347.3 527.5 348.8C530.8 350.2 535.4 352.8 537.5 353.8C539.6 354.8 538.3 353.9 540.0 354.8C541.7 355.6 545.0 357.1 547.5 358.8C550.0 360.4 552.5 362.6 555.0 364.4C557.5 366.1 559.6 367.7 562.5 369.4C565.4 371.0 569.2 372.6 572.5 374.4C575.8 376.1 579.2 378.2 582.5 380.0C585.8 381.8 589.2 383.4 592.5 385.0C595.8 386.6 599.6 388.3 602.5 389.4C605.4 390.4 607.5 390.5 610.0 391.2C612.5 392.0 615.0 392.9 617.5 393.8C620.0 394.6 622.9 395.8 625.0 396.5C627.1 397.2 628.3 397.3 630.0 397.8C631.7 398.2 633.3 399.0 635.0 399.4C636.7 399.8 638.3 400.0 640.0 400.0C641.7 400.0 643.3 399.8 645.0 399.4C646.7 399.0 648.3 398.1 650.0 397.5C651.7 396.9 652.9 396.6 655.0 395.6C657.1 394.7 660.0 393.4 662.5 391.9C665.0 390.3 667.5 388.4 670.0 386.2C672.5 384.1 675.0 381.4 677.5 378.8C680.0 376.1 682.5 373.4 685.0 370.6C687.5 367.8 690.2 365.0 692.5 362.0C694.8 359.0 696.7 355.5 698.8 352.5C700.8 349.5 702.7 346.7 705.0 343.8C707.3 340.8 710.0 338.5 712.5 335.0C715.0 331.5 717.5 326.7 720.0 322.5C722.5 318.3 725.0 314.4 727.5 310.0C730.0 305.6 732.5 301.0 735.0 296.2C737.5 291.5 740.0 285.6 742.5 281.2C745.0 276.9 747.5 273.5 750.0 270.0C752.5 266.5 755.8 262.2 757.5 260.0C759.2 257.8 758.8 258.2 760.0 256.9C761.2 255.5 763.3 253.3 765.0 251.9C766.7 250.4 768.3 249.2 770.0 248.1C771.7 247.1 773.3 246.2 775.0 245.6C776.7 245.0 778.3 244.6 780.0 244.4C781.7 244.2 784.0 244.3 785.0 244.4C786.0 244.4 785.0 244.3 786.2 244.8C787.5 245.2 790.2 246.0 792.5 246.9C794.8 247.8 797.5 249.2 800.0 250.0C802.5 250.8 804.8 251.0 807.5 251.5C810.2 252.0 813.5 252.1 816.2 253.1C819.0 254.1 821.2 256.0 823.8 257.5C826.2 259.0 829.0 260.3 831.2 261.9C833.5 263.4 835.6 265.0 837.5 266.9C839.4 268.8 840.4 270.9 842.5 273.1C844.6 275.3 847.5 277.6 850.0 280.0C852.5 282.4 854.6 285.1 857.2 287.5C859.9 289.9 863.1 292.3 866.0 294.4C868.9 296.5 871.8 298.1 874.8 300.0C877.7 301.9 880.6 304.0 883.5 305.6C886.4 307.3 889.1 308.8 892.2 310.0C895.4 311.2 899.1 311.7 902.2 313.1C905.4 314.6 908.1 317.0 911.0 318.8C913.9 320.5 917.2 322.3 919.8 323.8C922.2 325.2 924.4 326.6 926.0 327.5C927.6 328.4 928.6 328.8 929.1 329.0" fill="none" stroke="#c62a64" stroke-width="1.4" stroke-linejoin="round" stroke-linecap="round"/>
<path d="M88.1 345.4C88.4 345.0 89.4 343.8 90.0 343.1C90.6 342.4 91.0 341.8 91.9 341.2C92.7 340.7 92.8 340.0 95.0 340.0C97.2 340.0 101.2 340.7 105.0 341.2C108.8 341.8 113.3 342.5 117.5 343.1C121.7 343.8 127.1 344.1 130.0 345.0C132.9 345.9 132.9 346.7 135.0 348.8C137.1 350.8 140.0 354.8 142.5 357.5C145.0 360.2 147.7 362.7 150.0 365.0C152.3 367.3 154.6 369.8 156.2 371.2C157.9 372.8 158.5 373.5 160.0 374.0C161.5 374.5 163.3 374.8 165.0 374.4C166.7 373.9 168.1 372.8 170.0 371.2C171.9 369.7 174.2 367.2 176.2 365.0C178.3 362.8 180.8 360.0 182.5 358.1C184.2 356.2 185.0 355.0 186.2 353.8C187.5 352.5 188.5 351.3 190.0 350.6C191.5 350.0 193.3 349.8 195.0 349.8C196.7 349.7 197.9 349.8 200.0 350.2C202.1 350.7 204.8 351.5 207.5 352.5C210.2 353.5 213.3 354.8 216.2 356.2C219.2 357.7 222.3 359.8 225.0 361.2C227.7 362.7 230.4 364.0 232.5 365.0C234.6 366.0 235.8 367.0 237.5 367.2C239.2 367.5 240.4 366.9 242.5 366.5C244.6 366.1 247.7 365.5 250.0 365.0C252.3 364.5 254.2 364.8 256.2 363.8C258.3 362.7 260.6 360.3 262.5 358.8C264.4 357.2 265.8 355.5 267.5 354.4C269.2 353.2 270.8 352.4 272.5 351.9C274.2 351.3 275.8 351.4 277.5 351.0C279.2 350.6 280.8 350.1 282.5 349.8C284.2 349.4 285.4 348.9 287.5 348.8C289.6 348.6 292.5 348.8 295.0 348.8C297.5 348.7 300.0 348.5 302.5 348.5C305.0 348.5 307.5 348.7 310.0 348.8C312.5 348.8 315.8 348.6 317.5 348.8C319.2 348.9 318.3 349.4 320.0 349.4C321.7 349.4 324.8 349.3 327.5 348.8C330.2 348.2 334.2 347.3 336.2 346.2C338.3 345.2 338.5 343.8 340.0 342.5C341.5 341.2 343.3 340.8 345.0 338.8C346.7 336.7 347.9 333.1 350.0 330.0C352.1 326.9 355.4 322.3 357.5 320.0C359.6 317.7 360.8 317.7 362.5 316.2C364.2 314.8 365.9 312.5 367.5 311.2C369.1 310.0 370.6 308.4 371.9 308.8C373.1 309.1 373.9 311.2 375.0 313.1C376.1 315.0 377.5 316.6 378.8 320.0C380.0 323.4 381.0 329.6 382.5 333.8C384.0 337.9 385.8 341.6 387.5 345.0C389.2 348.4 390.8 352.5 392.5 354.4C394.2 356.2 395.8 355.4 397.5 356.2C399.2 357.1 400.8 358.4 402.5 359.4C404.2 360.3 406.0 361.7 407.5 361.9C409.0 362.1 410.0 362.2 411.2 360.6C412.5 359.1 413.5 355.3 415.0 352.5C416.5 349.7 418.1 346.2 420.0 343.8C421.9 341.2 424.2 339.0 426.2 337.5C428.3 336.0 430.6 335.8 432.5 335.0C434.4 334.2 436.2 332.8 437.5 332.5C438.8 332.2 438.3 334.0 440.0 333.1C441.7 332.3 445.0 329.4 447.5 327.5C450.0 325.6 453.2 323.1 455.0 321.9C456.8 320.6 456.5 319.6 458.1 320.0C459.8 320.4 462.6 323.0 465.0 324.4C467.4 325.7 470.0 326.2 472.5 328.1C475.0 330.0 477.5 332.8 480.0 335.6C482.5 338.4 485.0 342.0 487.5 345.0C490.0 348.0 492.5 350.8 495.0 353.8C497.5 356.7 500.4 360.4 502.5 362.5C504.6 364.6 505.8 365.3 507.5 366.2C509.2 367.2 510.4 367.3 512.5 368.1C514.6 369.0 517.5 370.6 520.0 371.2C522.5 371.9 525.0 371.8 527.5 371.9C530.0 372.0 532.9 371.7 535.0 371.9C537.1 372.0 537.9 372.3 540.0 372.8C542.1 373.2 545.0 373.6 547.5 374.8C550.0 375.9 552.5 378.0 555.0 379.4C557.5 380.8 560.0 381.8 562.5 383.1C565.0 384.5 567.5 386.0 570.0 387.5C572.5 389.0 575.0 390.4 577.5 391.9C580.0 393.3 582.5 394.7 585.0 396.2C587.5 397.8 590.2 399.6 592.5 401.2C594.8 402.9 596.9 404.9 598.8 406.2C600.6 407.6 602.1 408.5 603.8 409.4C605.4 410.2 606.9 410.7 608.8 411.2C610.6 411.8 612.9 412.4 615.0 412.5C617.1 412.6 619.2 412.3 621.2 411.9C623.3 411.5 625.8 410.6 627.5 410.0C629.2 409.4 629.6 409.2 631.2 408.1C632.9 407.1 635.4 405.4 637.5 403.8C639.6 402.1 641.7 400.4 643.8 398.1C645.8 395.8 647.9 392.8 650.0 390.0C652.1 387.2 654.2 384.4 656.2 381.2C658.3 378.1 660.7 374.5 662.5 371.2C664.3 368.0 665.2 365.3 666.9 362.0C668.5 358.7 670.7 354.7 672.5 351.2C674.3 347.8 675.8 344.8 677.5 341.2C679.2 337.7 681.0 333.8 682.5 330.0C684.0 326.2 685.0 322.7 686.2 318.8C687.5 314.8 688.8 310.4 690.0 306.2C691.2 302.1 692.7 297.1 693.8 293.8C694.8 290.4 695.2 288.3 696.2 286.2C697.3 284.2 699.0 282.5 700.0 281.2C701.0 280.0 701.5 281.0 702.5 278.8C703.5 276.5 705.0 270.0 706.2 267.5C707.5 265.0 708.8 264.8 710.0 263.8C711.2 262.7 712.5 262.0 713.8 261.2C715.0 260.5 716.2 260.0 717.5 259.4C718.8 258.8 720.0 258.6 721.2 257.5C722.5 256.4 723.5 254.0 725.0 252.5C726.5 251.0 728.5 250.4 730.0 248.8C731.5 247.1 732.5 245.2 733.8 242.5C735.0 239.8 736.2 235.6 737.5 232.5C738.8 229.4 740.0 226.5 741.2 223.8C742.5 221.0 744.0 218.0 745.0 216.2C746.0 214.5 746.2 213.8 747.5 213.1C748.8 212.5 750.8 212.5 752.5 212.5C754.2 212.5 755.8 212.3 757.5 213.1C759.2 214.0 760.6 215.5 762.5 217.5C764.4 219.5 767.1 222.3 768.8 225.0C770.4 227.7 771.2 230.8 772.5 233.8C773.8 236.7 775.0 240.0 776.2 242.5C777.5 245.0 778.5 245.8 780.0 248.8C781.5 251.7 783.3 256.5 785.0 260.0C786.7 263.5 788.3 267.3 790.0 270.0C791.7 272.7 793.1 274.2 795.0 276.2C796.9 278.3 799.2 280.3 801.2 282.5C803.3 284.7 805.4 287.8 807.5 289.4C809.6 291.0 811.7 291.5 813.8 292.2C815.8 293.0 817.9 293.5 820.0 293.8C822.1 294.0 824.2 294.0 826.2 293.8C828.3 293.5 830.6 292.6 832.5 292.5C834.4 292.4 835.4 292.8 837.5 293.1C839.6 293.4 842.5 293.8 845.0 294.4C847.5 295.0 850.4 295.7 852.5 296.9C854.6 298.0 856.5 300.6 857.5 301.2C858.5 301.9 857.1 299.4 858.5 300.6C859.9 301.9 863.5 306.4 866.0 308.8C868.5 311.1 871.0 312.9 873.5 315.0C876.0 317.1 878.5 319.0 881.0 321.2C883.5 323.5 886.4 327.0 888.5 328.8C890.6 330.5 891.8 331.2 893.5 331.9C895.2 332.5 896.8 332.2 898.5 332.5C900.2 332.8 901.8 332.7 903.5 333.8C905.2 334.8 906.6 337.0 908.5 338.8C910.4 340.5 912.7 342.7 914.8 344.4C916.8 346.0 919.1 347.7 921.0 348.8C922.9 349.8 924.6 350.5 926.0 350.6C927.4 350.7 928.3 349.8 929.1 349.4C930.0 349.0 930.7 348.3 931.0 348.1" fill="none" stroke="#3391a7" stroke-width="1.4" stroke-linejoin="round" stroke-linecap="round"/>
<g><rect x="87.45" y="603.9" width="1.3" height="1.5" fill="#f58cb0" stroke="#c8205f" stroke-width="0.75"/><rect x="90.90" y="603.4" width="1.3" height="2.0" fill="#f58cb0" stroke="#c8205f" stroke-width="0.75"/><rect x="94.36" y="604.7" width="1.3" height="0.7" fill="#f58cb0" stroke="#c8205f" stroke-width="0.75"/><rect x="97.81" y="605.1" width="1.3" height="0.3" fill="#f58cb0" stroke="#c8205f" stroke-width="0.75"/><rect x="101.27" y="601.9" width="1.3" height="3.5" fill="#f58cb0" stroke="#c8205f" stroke-width="0.75"/><rect x="104.72" y="604.9" width="1.3" height="0.5" fill="#f58cb0" stroke="#c8205f" stroke-width="0.75"/><rect x="108.18" y="605.2" width="1.3" height="0.2" fill="#f58cb0" stroke="#c8205f" stroke-width="0.75"/><rect x="111.63" y="604.8" width="1.3" height="0.6" fill="#f58cb0" stroke="#c8205f" stroke-width="0.75"/><rect x="115.09" y="605.2" width="1.3" height="0.2" fill="#f58cb0" stroke="#c8205f" stroke-width="0.75"/><rect x="118.54" y="604.9" width="1.3" height="0.5" fill="#f58cb0" stroke="#c8205f" stroke-width="0.75"/><rect x="122.00" y="605.1" width="1.3" height="0.3" fill="#f58cb0" stroke="#c8205f" stroke-width="0.75"/><rect x="125.45" y="605.1" width="1.3" height="0.3" fill="#f58cb0" stroke="#c8205f" stroke-width="0.75"/><rect x="128.91" y="604.9" width="1.3" height="0.5" fill="#f58cb0" stroke="#c8205f" stroke-width="0.75"/><rect x="132.36" y="603.9" width="1.3" height="1.5" fill="#f58cb0" stroke="#c8205f" stroke-width="0.75"/><rect x="135.82" y="603.4" width="1.3" height="2.0" fill="#f58cb0" stroke="#c8205f" stroke-width="0.75"/><rect x="139.28" y="602.9" width="1.3" height="2.5" fill="#f58cb0" stroke="#c8205f" stroke-width="0.75"/><rect x="142.73" y="602.4" width="1.3" height="3.0" fill="#f58cb0" stroke="#c8205f" stroke-width="0.75"/><rect x="146.18" y="602.9" width="1.3" height="2.5" fill="#f58cb0" stroke="#c8205f" stroke-width="0.75"/><rect x="149.64" y="603.4" width="1.3" height="2.0" fill="#f58cb0" stroke="#c8205f" stroke-width="0.75"/><rect x="153.09" y="604.9" width="1.3" height="0.5" fill="#f58cb0" stroke="#c8205f" stroke-width="0.75"/><rect x="156.55" y="603.9" width="1.3" height="1.5" fill="#f58cb0" stroke="#c8205f" stroke-width="0.75"/><rect x="160.00" y="605.2" width="1.3" height="0.2" fill="#f58cb0" stroke="#c8205f" stroke-width="0.75"/><rect x="163.46" y="600.9" width="1.3" height="4.5" fill="#f58cb0" stroke="#c8205f" stroke-width="0.75"/><rect x="166.91" y="602.4" width="1.3" height="3.0" fill="#f58cb0" stroke="#c8205f" stroke-width="0.75"/><rect x="170.37" y="602.9" width="1.3" height="2.5" fill="#f58cb0" stroke="#c8205f" stroke-width="0.75"/><rect x="173.82" y="602.9" width="1.3" height="2.5" fill="#f58cb0" stroke="#c8205f" stroke-width="0.75"/><rect x="177.28" y="603.2" width="1.3" height="2.2" fill="#f58cb0" stroke="#c8205f" stroke-width="0.75"/><rect x="180.73" y="603.2" width="1.3" height="2.2" fill="#f58cb0" stroke="#c8205f" stroke-width="0.75"/><rect x="184.19" y="603.4" width="1.3" height="2.0" fill="#f58cb0" stroke="#c8205f" stroke-width="0.75"/><rect x="187.65" y="603.4" width="1.3" height="2.0" fill="#f58cb0" stroke="#c8205f" stroke-width="0.75"/><rect x="191.10" y="603.2" width="1.3" height="2.2" fill="#f58cb0" stroke="#c8205f" stroke-width="0.75"/><rect x="194.55" y="602.9" width="1.3" height="2.5" fill="#f58cb0" stroke="#c8205f" stroke-width="0.75"/><rect x="198.01" y="602.6" width="1.3" height="2.8" fill="#f58cb0" stroke="#c8205f" stroke-width="0.75"/><rect x="201.47" y="602.2" width="1.3" height="3.2" fill="#f58cb0" stroke="#c8205f" stroke-width="0.75"/><rect x="204.92" y="602.4" width="1.3" height="3.0" fill="#f58cb0" stroke="#c8205f" stroke-width="0.75"/><rect x="208.37" y="605.0" width="1.3" height="0.4" fill="#f58cb0" stroke="#c8205f" stroke-width="0.75"/><rect x="211.83" y="604.7" width="1.3" height="0.7" fill="#f58cb0" stroke="#c8205f" stroke-width="0.75"/><rect x="215.28" y="604.9" width="1.3" height="0.5" fill="#f58cb0" stroke="#c8205f" stroke-width="0.75"/><rect x="218.74" y="603.4" width="1.3" height="2.0" fill="#f58cb0" stroke="#c8205f" stroke-width="0.75"/><rect x="222.19" y="603.6" width="1.3" height="1.8" fill="#f58cb0" stroke="#c8205f" stroke-width="0.75"/><rect x="225.65" y="603.8" width="1.3" height="1.6" fill="#f58cb0" stroke="#c8205f" stroke-width="0.75"/><rect x="229.10" y="605.0" width="1.3" height="0.4" fill="#f58cb0" stroke="#c8205f" stroke-width="0.75"/><rect x="232.56" y="604.6" width="1.3" height="0.8" fill="#f58cb0" stroke="#c8205f" stroke-width="0.75"/><rect x="236.01" y="604.6" width="1.3" height="0.8" fill="#f58cb0" stroke="#c8205f" stroke-width="0.75"/><rect x="239.47" y="602.9" width="1.3" height="2.5" fill="#f58cb0" stroke="#c8205f" stroke-width="0.75"/><rect x="242.92" y="599.9" width="1.3" height="5.5" fill="#f58cb0" stroke="#c8205f" stroke-width="0.75"/><rect x="246.38" y="602.4" width="1.3" height="3.0" fill="#f58cb0" stroke="#c8205f" stroke-width="0.75"/><rect x="249.83" y="603.9" width="1.3" height="1.5" fill="#f58cb0" stroke="#c8205f" stroke-width="0.75"/><rect x="253.29" y="604.6" width="1.3" height="0.8" fill="#f58cb0" stroke="#c8205f" stroke-width="0.75"/><rect x="256.75" y="603.6" width="1.3" height="1.8" fill="#f58cb0" stroke="#c8205f" stroke-width="0.75"/><rect x="260.20" y="603.4" width="1.3" height="2.0" fill="#f58cb0" stroke="#c8205f" stroke-width="0.75"/><rect x="263.66" y="603.6" width="1.3" height="1.8" fill="#f58cb0" stroke="#c8205f" stroke-width="0.75"/><rect x="267.11" y="603.8" width="1.3" height="1.6" fill="#f58cb0" stroke="#c8205f" stroke-width="0.75"/><rect x="270.57" y="604.6" width="1.3" height="0.8" fill="#f58cb0" stroke="#c8205f" stroke-width="0.75"/><rect x="274.02" y="605.1" width="1.3" height="0.3" fill="#f58cb0" stroke="#c8205f" stroke-width="0.75"/><rect x="277.48" y="604.8" width="1.3" height="0.6" fill="#f58cb0" stroke="#c8205f" stroke-width="0.75"/><rect x="280.93" y="605.2" width="1.3" height="0.2" fill="#f58cb0" stroke="#c8205f" stroke-width="0.75"/><rect x="284.38" y="604.7" width="1.3" height="0.7" fill="#f58cb0" stroke="#c8205f" stroke-width="0.75"/><rect x="287.84" y="604.6" width="1.3" height="0.8" fill="#f58cb0" stroke="#c8205f" stroke-width="0.75"/><rect x="291.30" y="604.7" width="1.3" height="0.7" fill="#f58cb0" stroke="#c8205f" stroke-width="0.75"/><rect x="294.75" y="604.5" width="1.3" height="0.9" fill="#f58cb0" stroke="#c8205f" stroke-width="0.75"/><rect x="298.21" y="604.9" width="1.3" height="0.5" fill="#f58cb0" stroke="#c8205f" stroke-width="0.75"/><rect x="301.66" y="604.6" width="1.3" height="0.8" fill="#f58cb0" stroke="#c8205f" stroke-width="0.75"/><rect x="305.12" y="604.7" width="1.3" height="0.7" fill="#f58cb0" stroke="#c8205f" stroke-width="0.75"/><rect x="308.57" y="604.7" width="1.3" height="0.7" fill="#f58cb0" stroke="#c8205f" stroke-width="0.75"/><rect x="312.03" y="600.4" width="1.3" height="5.0" fill="#f58cb0" stroke="#c8205f" stroke-width="0.75"/><rect x="315.48" y="603.5" width="1.3" height="1.9" fill="#f58cb0" stroke="#c8205f" stroke-width="0.75"/><rect x="318.94" y="604.8" width="1.3" height="0.6" fill="#f58cb0" stroke="#c8205f" stroke-width="0.75"/><rect x="322.39" y="604.1" width="1.3" height="1.2" fill="#f58cb0" stroke="#c8205f" stroke-width="0.75"/><rect x="325.85" y="604.8" width="1.3" height="0.6" fill="#f58cb0" stroke="#c8205f" stroke-width="0.75"/><rect x="329.30" y="603.5" width="1.3" height="1.9" fill="#f58cb0" stroke="#c8205f" stroke-width="0.75"/><rect x="332.75" y="604.8" width="1.3" height="0.6" fill="#f58cb0" stroke="#c8205f" stroke-width="0.75"/><rect x="336.21" y="576.0" width="1.3" height="29.4" fill="#f58cb0" stroke="#c8205f" stroke-width="0.75"/><rect x="339.67" y="588.3" width="1.3" height="17.1" fill="#f58cb0" stroke="#c8205f" stroke-width="0.75"/><rect x="343.12" y="596.6" width="1.3" height="8.8" fill="#f58cb0" stroke="#c8205f" stroke-width="0.75"/><rect x="346.58" y="537.6" width="1.3" height="67.8" fill="#f58cb0" stroke="#c8205f" stroke-width="0.75"/><rect x="350.03" y="531.9" width="1.3" height="73.5" fill="#f58cb0" stroke="#c8205f" stroke-width="0.75"/><rect x="353.49" y="574.8" width="1.3" height="30.6" fill="#f58cb0" stroke="#c8205f" stroke-width="0.75"/><rect x="356.94" y="590.8" width="1.3" height="14.6" fill="#f58cb0" stroke="#c8205f" stroke-width="0.75"/><rect x="360.39" y="541.0" width="1.3" height="64.4" fill="#f58cb0" stroke="#c8205f" stroke-width="0.75"/><rect x="363.85" y="579.8" width="1.3" height="25.6" fill="#f58cb0" stroke="#c8205f" stroke-width="0.75"/><rect x="367.31" y="562.6" width="1.3" height="42.8" fill="#f58cb0" stroke="#c8205f" stroke-width="0.75"/><rect x="370.76" y="567.9" width="1.3" height="37.5" fill="#f58cb0" stroke="#c8205f" stroke-width="0.75"/><rect x="374.22" y="604.8" width="1.3" height="0.6" fill="#f58cb0" stroke="#c8205f" stroke-width="0.75"/><rect x="377.67" y="588.3" width="1.3" height="17.1" fill="#f58cb0" stroke="#c8205f" stroke-width="0.75"/><rect x="381.12" y="587.9" width="1.3" height="17.5" fill="#f58cb0" stroke="#c8205f" stroke-width="0.75"/><rect x="384.58" y="604.1" width="1.3" height="1.2" fill="#f58cb0" stroke="#c8205f" stroke-width="0.75"/><rect x="388.03" y="585.4" width="1.3" height="20.0" fill="#f58cb0" stroke="#c8205f" stroke-width="0.75"/><rect x="391.49" y="590.0" width="1.3" height="15.4" fill="#f58cb0" stroke="#c8205f" stroke-width="0.75"/><rect x="394.95" y="594.5" width="1.3" height="10.9" fill="#f58cb0" stroke="#c8205f" stroke-width="0.75"/><rect x="398.40" y="568.1" width="1.3" height="37.2" fill="#f58cb0" stroke="#c8205f" stroke-width="0.75"/><rect x="401.86" y="579.8" width="1.3" height="25.6" fill="#f58cb0" stroke="#c8205f" stroke-width="0.75"/><rect x="405.31" y="596.4" width="1.3" height="9.0" fill="#f58cb0" stroke="#c8205f" stroke-width="0.75"/><rect x="408.76" y="597.3" width="1.3" height="8.1" fill="#f58cb0" stroke="#c8205f" stroke-width="0.75"/><rect x="412.22" y="594.8" width="1.3" height="10.6" fill="#f58cb0" stroke="#c8205f" stroke-width="0.75"/><rect x="415.68" y="592.0" width="1.3" height="13.4" fill="#f58cb0" stroke="#c8205f" stroke-width="0.75"/><rect x="419.13" y="597.9" width="1.3" height="7.5" fill="#f58cb0" stroke="#c8205f" stroke-width="0.75"/><rect x="422.59" y="594.9" width="1.3" height="10.5" fill="#f58cb0" stroke="#c8205f" stroke-width="0.75"/><rect x="426.04" y="594.9" width="1.3" height="10.5" fill="#f58cb0" stroke="#c8205f" stroke-width="0.75"/><rect x="429.50" y="586.1" width="1.3" height="19.2" fill="#f58cb0" stroke="#c8205f" stroke-width="0.75"/><rect x="432.95" y="599.9" width="1.3" height="5.5" fill="#f58cb0" stroke="#c8205f" stroke-width="0.75"/><rect x="436.40" y="599.9" width="1.3" height="5.5" fill="#f58cb0" stroke="#c8205f" stroke-width="0.75"/><rect x="439.86" y="598.6" width="1.3" height="6.8" fill="#f58cb0" stroke="#c8205f" stroke-width="0.75"/><rect x="443.32" y="587.4" width="1.3" height="18.0" fill="#f58cb0" stroke="#c8205f" stroke-width="0.75"/><rect x="446.77" y="591.1" width="1.3" height="14.2" fill="#f58cb0" stroke="#c8205f" stroke-width="0.75"/><rect x="450.23" y="593.6" width="1.3" height="11.8" fill="#f58cb0" stroke="#c8205f" stroke-width="0.75"/><rect x="453.68" y="594.9" width="1.3" height="10.5" fill="#f58cb0" stroke="#c8205f" stroke-width="0.75"/><rect x="457.13" y="602.4" width="1.3" height="3.0" fill="#f58cb0" stroke="#c8205f" stroke-width="0.75"/><rect x="460.59" y="599.9" width="1.3" height="5.5" fill="#f58cb0" stroke="#c8205f" stroke-width="0.75"/><rect x="464.05" y="596.1" width="1.3" height="9.2" fill="#f58cb0" stroke="#c8205f" stroke-width="0.75"/><rect x="467.50" y="601.1" width="1.3" height="4.2" fill="#f58cb0" stroke="#c8205f" stroke-width="0.75"/><rect x="470.96" y="601.9" width="1.3" height="3.5" fill="#f58cb0" stroke="#c8205f" stroke-width="0.75"/><rect x="474.41" y="601.9" width="1.3" height="3.5" fill="#f58cb0" stroke="#c8205f" stroke-width="0.75"/><rect x="477.87" y="601.9" width="1.3" height="3.5" fill="#f58cb0" stroke="#c8205f" stroke-width="0.75"/><rect x="481.32" y="602.4" width="1.3" height="3.0" fill="#f58cb0" stroke="#c8205f" stroke-width="0.75"/><rect x="484.77" y="603.1" width="1.3" height="2.2" fill="#f58cb0" stroke="#c8205f" stroke-width="0.75"/><rect x="488.23" y="603.4" width="1.3" height="2.0" fill="#f58cb0" stroke="#c8205f" stroke-width="0.75"/><rect x="491.69" y="603.1" width="1.3" height="2.2" fill="#f58cb0" stroke="#c8205f" stroke-width="0.75"/><rect x="495.14" y="603.6" width="1.3" height="1.8" fill="#f58cb0" stroke="#c8205f" stroke-width="0.75"/><rect x="498.60" y="603.4" width="1.3" height="2.0" fill="#f58cb0" stroke="#c8205f" stroke-width="0.75"/><rect x="502.05" y="602.4" width="1.3" height="3.0" fill="#f58cb0" stroke="#c8205f" stroke-width="0.75"/><rect x="505.50" y="596.9" width="1.3" height="8.5" fill="#f58cb0" stroke="#c8205f" stroke-width="0.75"/><rect x="508.96" y="600.4" width="1.3" height="5.0" fill="#f58cb0" stroke="#c8205f" stroke-width="0.75"/><rect x="512.42" y="603.6" width="1.3" height="1.8" fill="#f58cb0" stroke="#c8205f" stroke-width="0.75"/><rect x="515.87" y="603.9" width="1.3" height="1.5" fill="#f58cb0" stroke="#c8205f" stroke-width="0.75"/><rect x="519.33" y="603.6" width="1.3" height="1.8" fill="#f58cb0" stroke="#c8205f" stroke-width="0.75"/><rect x="522.78" y="603.9" width="1.3" height="1.5" fill="#f58cb0" stroke="#c8205f" stroke-width="0.75"/><rect x="526.24" y="604.1" width="1.3" height="1.2" fill="#f58cb0" stroke="#c8205f" stroke-width="0.75"/><rect x="529.69" y="603.6" width="1.3" height="1.8" fill="#f58cb0" stroke="#c8205f" stroke-width="0.75"/><rect x="533.14" y="603.9" width="1.3" height="1.5" fill="#f58cb0" stroke="#c8205f" stroke-width="0.75"/><rect x="536.60" y="593.6" width="1.3" height="11.8" fill="#f58cb0" stroke="#c8205f" stroke-width="0.75"/><rect x="540.06" y="601.1" width="1.3" height="4.2" fill="#f58cb0" stroke="#c8205f" stroke-width="0.75"/><rect x="543.51" y="603.1" width="1.3" height="2.2" fill="#f58cb0" stroke="#c8205f" stroke-width="0.75"/><rect x="546.97" y="603.1" width="1.3" height="2.2" fill="#f58cb0" stroke="#c8205f" stroke-width="0.75"/><rect x="550.42" y="600.4" width="1.3" height="5.0" fill="#f58cb0" stroke="#c8205f" stroke-width="0.75"/><rect x="553.88" y="602.4" width="1.3" height="3.0" fill="#f58cb0" stroke="#c8205f" stroke-width="0.75"/><rect x="557.33" y="601.9" width="1.3" height="3.5" fill="#f58cb0" stroke="#c8205f" stroke-width="0.75"/><rect x="560.79" y="602.9" width="1.3" height="2.5" fill="#f58cb0" stroke="#c8205f" stroke-width="0.75"/><rect x="564.24" y="603.1" width="1.3" height="2.2" fill="#f58cb0" stroke="#c8205f" stroke-width="0.75"/><rect x="567.70" y="602.4" width="1.3" height="3.0" fill="#f58cb0" stroke="#c8205f" stroke-width="0.75"/><rect x="571.15" y="602.4" width="1.3" height="3.0" fill="#f58cb0" stroke="#c8205f" stroke-width="0.75"/><rect x="574.61" y="601.1" width="1.3" height="4.2" fill="#f58cb0" stroke="#c8205f" stroke-width="0.75"/><rect x="578.06" y="600.6" width="1.3" height="4.8" fill="#f58cb0" stroke="#c8205f" stroke-width="0.75"/><rect x="581.51" y="601.1" width="1.3" height="4.2" fill="#f58cb0" stroke="#c8205f" stroke-width="0.75"/><rect x="584.97" y="601.9" width="1.3" height="3.5" fill="#f58cb0" stroke="#c8205f" stroke-width="0.75"/><rect x="588.43" y="602.4" width="1.3" height="3.0" fill="#f58cb0" stroke="#c8205f" stroke-width="0.75"/><rect x="591.88" y="603.6" width="1.3" height="1.8" fill="#f58cb0" stroke="#c8205f" stroke-width="0.75"/><rect x="595.34" y="604.4" width="1.3" height="1.0" fill="#f58cb0" stroke="#c8205f" stroke-width="0.75"/><rect x="598.79" y="604.6" width="1.3" height="0.8" fill="#f58cb0" stroke="#c8205f" stroke-width="0.75"/><rect x="602.25" y="604.9" width="1.3" height="0.5" fill="#f58cb0" stroke="#c8205f" stroke-width="0.75"/><rect x="605.70" y="604.6" width="1.3" height="0.8" fill="#f58cb0" stroke="#c8205f" stroke-width="0.75"/><rect x="609.16" y="604.6" width="1.3" height="0.8" fill="#f58cb0" stroke="#c8205f" stroke-width="0.75"/><rect x="612.61" y="604.4" width="1.3" height="1.0" fill="#f58cb0" stroke="#c8205f" stroke-width="0.75"/><rect x="616.07" y="603.1" width="1.3" height="2.2" fill="#f58cb0" stroke="#c8205f" stroke-width="0.75"/><rect x="619.52" y="604.4" width="1.3" height="1.0" fill="#f58cb0" stroke="#c8205f" stroke-width="0.75"/><rect x="622.98" y="604.4" width="1.3" height="1.0" fill="#f58cb0" stroke="#c8205f" stroke-width="0.75"/><rect x="626.43" y="603.6" width="1.3" height="1.8" fill="#f58cb0" stroke="#c8205f" stroke-width="0.75"/><rect x="629.89" y="603.1" width="1.3" height="2.2" fill="#f58cb0" stroke="#c8205f" stroke-width="0.75"/><rect x="633.34" y="599.9" width="1.3" height="5.5" fill="#f58cb0" stroke="#c8205f" stroke-width="0.75"/><rect x="636.80" y="601.9" width="1.3" height="3.5" fill="#f58cb0" stroke="#c8205f" stroke-width="0.75"/><rect x="640.25" y="601.9" width="1.3" height="3.5" fill="#f58cb0" stroke="#c8205f" stroke-width="0.75"/><rect x="643.71" y="601.1" width="1.3" height="4.3" fill="#f58cb0" stroke="#c8205f" stroke-width="0.75"/><rect x="647.16" y="599.4" width="1.3" height="6.0" fill="#f58cb0" stroke="#c8205f" stroke-width="0.75"/><rect x="650.62" y="577.8" width="1.3" height="27.6" fill="#f58cb0" stroke="#c8205f" stroke-width="0.75"/><rect x="654.07" y="599.4" width="1.3" height="6.0" fill="#f58cb0" stroke="#c8205f" stroke-width="0.75"/><rect x="657.53" y="594.4" width="1.3" height="11.0" fill="#f58cb0" stroke="#c8205f" stroke-width="0.75"/><rect x="660.98" y="601.1" width="1.3" height="4.3" fill="#f58cb0" stroke="#c8205f" stroke-width="0.75"/><rect x="664.44" y="572.0" width="1.3" height="33.4" fill="#f58cb0" stroke="#c8205f" stroke-width="0.75"/><rect x="667.89" y="592.0" width="1.3" height="13.4" fill="#f58cb0" stroke="#c8205f" stroke-width="0.75"/><rect x="671.35" y="597.8" width="1.3" height="7.6" fill="#f58cb0" stroke="#c8205f" stroke-width="0.75"/><rect x="674.80" y="596.9" width="1.3" height="8.5" fill="#f58cb0" stroke="#c8205f" stroke-width="0.75"/><rect x="678.26" y="593.6" width="1.3" height="11.8" fill="#f58cb0" stroke="#c8205f" stroke-width="0.75"/><rect x="681.71" y="585.3" width="1.3" height="20.1" fill="#f58cb0" stroke="#c8205f" stroke-width="0.75"/><rect x="685.17" y="572.0" width="1.3" height="33.4" fill="#f58cb0" stroke="#c8205f" stroke-width="0.75"/><rect x="688.62" y="510.6" width="1.3" height="94.8" fill="#f58cb0" stroke="#c8205f" stroke-width="0.75"/><rect x="692.08" y="587.8" width="1.3" height="17.6" fill="#f58cb0" stroke="#c8205f" stroke-width="0.75"/><rect x="695.53" y="560.1" width="1.3" height="45.3" fill="#f58cb0" stroke="#c8205f" stroke-width="0.75"/><rect x="698.99" y="586.1" width="1.3" height="19.3" fill="#f58cb0" stroke="#c8205f" stroke-width="0.75"/><rect x="702.44" y="592.8" width="1.3" height="12.6" fill="#f58cb0" stroke="#c8205f" stroke-width="0.75"/><rect x="705.90" y="597.4" width="1.3" height="8.0" fill="#f58cb0" stroke="#c8205f" stroke-width="0.75"/><rect x="709.35" y="587.0" width="1.3" height="18.4" fill="#f58cb0" stroke="#c8205f" stroke-width="0.75"/><rect x="712.81" y="583.3" width="1.3" height="22.1" fill="#f58cb0" stroke="#c8205f" stroke-width="0.75"/><rect x="716.26" y="569.5" width="1.3" height="35.9" fill="#f58cb0" stroke="#c8205f" stroke-width="0.75"/><rect x="719.72" y="511.4" width="1.3" height="94.0" fill="#f58cb0" stroke="#c8205f" stroke-width="0.75"/><rect x="723.17" y="545.5" width="1.3" height="59.9" fill="#f58cb0" stroke="#c8205f" stroke-width="0.75"/><rect x="726.63" y="578.7" width="1.3" height="26.7" fill="#f58cb0" stroke="#c8205f" stroke-width="0.75"/><rect x="730.08" y="558.8" width="1.3" height="46.6" fill="#f58cb0" stroke="#c8205f" stroke-width="0.75"/><rect x="733.54" y="563.4" width="1.3" height="42.0" fill="#f58cb0" stroke="#c8205f" stroke-width="0.75"/><rect x="736.99" y="505.6" width="1.3" height="99.8" fill="#f58cb0" stroke="#c8205f" stroke-width="0.75"/><rect x="740.45" y="474.6" width="1.3" height="130.8" fill="#f58cb0" stroke="#c8205f" stroke-width="0.75"/><rect x="743.90" y="574.2" width="1.3" height="31.2" fill="#f58cb0" stroke="#c8205f" stroke-width="0.75"/><rect x="747.36" y="589.5" width="1.3" height="15.9" fill="#f58cb0" stroke="#c8205f" stroke-width="0.75"/><rect x="750.81" y="593.6" width="1.3" height="11.8" fill="#f58cb0" stroke="#c8205f" stroke-width="0.75"/><rect x="754.27" y="587.8" width="1.3" height="17.6" fill="#f58cb0" stroke="#c8205f" stroke-width="0.75"/><rect x="757.72" y="583.7" width="1.3" height="21.7" fill="#f58cb0" stroke="#c8205f" stroke-width="0.75"/><rect x="761.18" y="596.1" width="1.3" height="9.3" fill="#f58cb0" stroke="#c8205f" stroke-width="0.75"/><rect x="764.63" y="597.4" width="1.3" height="8.0" fill="#f58cb0" stroke="#c8205f" stroke-width="0.75"/><rect x="768.09" y="600.3" width="1.3" height="5.1" fill="#f58cb0" stroke="#c8205f" stroke-width="0.75"/><rect x="771.54" y="600.3" width="1.3" height="5.1" fill="#f58cb0" stroke="#c8205f" stroke-width="0.75"/><rect x="775.00" y="596.9" width="1.3" height="8.5" fill="#f58cb0" stroke="#c8205f" stroke-width="0.75"/><rect x="778.45" y="598.6" width="1.3" height="6.8" fill="#f58cb0" stroke="#c8205f" stroke-width="0.75"/><rect x="781.91" y="596.9" width="1.3" height="8.5" fill="#f58cb0" stroke="#c8205f" stroke-width="0.75"/><rect x="785.36" y="598.6" width="1.3" height="6.8" fill="#f58cb0" stroke="#c8205f" stroke-width="0.75"/><rect x="788.82" y="600.3" width="1.3" height="5.1" fill="#f58cb0" stroke="#c8205f" stroke-width="0.75"/><rect x="792.27" y="599.1" width="1.3" height="6.2" fill="#f58cb0" stroke="#c8205f" stroke-width="0.75"/><rect x="795.73" y="602.3" width="1.3" height="3.1" fill="#f58cb0" stroke="#c8205f" stroke-width="0.75"/><rect x="799.18" y="603.8" width="1.3" height="1.6" fill="#f58cb0" stroke="#c8205f" stroke-width="0.75"/><rect x="802.64" y="602.3" width="1.3" height="3.1" fill="#f58cb0" stroke="#c8205f" stroke-width="0.75"/><rect x="806.09" y="602.3" width="1.3" height="3.1" fill="#f58cb0" stroke="#c8205f" stroke-width="0.75"/><rect x="809.55" y="602.3" width="1.3" height="3.1" fill="#f58cb0" stroke="#c8205f" stroke-width="0.75"/><rect x="813.00" y="602.3" width="1.3" height="3.1" fill="#f58cb0" stroke="#c8205f" stroke-width="0.75"/><rect x="816.46" y="603.1" width="1.3" height="2.3" fill="#f58cb0" stroke="#c8205f" stroke-width="0.75"/><rect x="819.91" y="603.8" width="1.3" height="1.6" fill="#f58cb0" stroke="#c8205f" stroke-width="0.75"/><rect x="823.37" y="590.6" width="1.3" height="14.8" fill="#f58cb0" stroke="#c8205f" stroke-width="0.75"/><rect x="826.82" y="584.3" width="1.3" height="21.1" fill="#f58cb0" stroke="#c8205f" stroke-width="0.75"/><rect x="830.28" y="599.9" width="1.3" height="5.5" fill="#f58cb0" stroke="#c8205f" stroke-width="0.75"/><rect x="833.73" y="602.3" width="1.3" height="3.1" fill="#f58cb0" stroke="#c8205f" stroke-width="0.75"/><rect x="837.19" y="602.6" width="1.3" height="2.8" fill="#f58cb0" stroke="#c8205f" stroke-width="0.75"/><rect x="840.64" y="603.1" width="1.3" height="2.3" fill="#f58cb0" stroke="#c8205f" stroke-width="0.75"/><rect x="844.10" y="603.5" width="1.3" height="1.9" fill="#f58cb0" stroke="#c8205f" stroke-width="0.75"/><rect x="847.55" y="603.8" width="1.3" height="1.6" fill="#f58cb0" stroke="#c8205f" stroke-width="0.75"/><rect x="851.01" y="604.1" width="1.3" height="1.2" fill="#f58cb0" stroke="#c8205f" stroke-width="0.75"/><rect x="854.46" y="601.5" width="1.3" height="3.9" fill="#f58cb0" stroke="#c8205f" stroke-width="0.75"/><rect x="857.92" y="604.1" width="1.3" height="1.2" fill="#f58cb0" stroke="#c8205f" stroke-width="0.75"/><rect x="861.37" y="604.3" width="1.3" height="1.1" fill="#f58cb0" stroke="#c8205f" stroke-width="0.75"/><rect x="864.83" y="604.3" width="1.3" height="1.1" fill="#f58cb0" stroke="#c8205f" stroke-width="0.75"/><rect x="868.28" y="604.3" width="1.3" height="1.1" fill="#f58cb0" stroke="#c8205f" stroke-width="0.75"/><rect x="871.74" y="604.3" width="1.3" height="1.1" fill="#f58cb0" stroke="#c8205f" stroke-width="0.75"/><rect x="875.19" y="604.5" width="1.3" height="0.9" fill="#f58cb0" stroke="#c8205f" stroke-width="0.75"/><rect x="878.65" y="604.5" width="1.3" height="0.9" fill="#f58cb0" stroke="#c8205f" stroke-width="0.75"/><rect x="882.10" y="604.3" width="1.3" height="1.1" fill="#f58cb0" stroke="#c8205f" stroke-width="0.75"/><rect x="885.56" y="604.3" width="1.3" height="1.1" fill="#f58cb0" stroke="#c8205f" stroke-width="0.75"/><rect x="889.01" y="603.1" width="1.3" height="2.3" fill="#f58cb0" stroke="#c8205f" stroke-width="0.75"/><rect x="892.47" y="604.1" width="1.3" height="1.2" fill="#f58cb0" stroke="#c8205f" stroke-width="0.75"/><rect x="895.92" y="603.8" width="1.3" height="1.6" fill="#f58cb0" stroke="#c8205f" stroke-width="0.75"/><rect x="899.38" y="603.8" width="1.3" height="1.6" fill="#f58cb0" stroke="#c8205f" stroke-width="0.75"/><rect x="902.83" y="603.5" width="1.3" height="1.9" fill="#f58cb0" stroke="#c8205f" stroke-width="0.75"/><rect x="906.29" y="602.3" width="1.3" height="3.1" fill="#f58cb0" stroke="#c8205f" stroke-width="0.75"/><rect x="909.74" y="600.7" width="1.3" height="4.7" fill="#f58cb0" stroke="#c8205f" stroke-width="0.75"/><rect x="913.20" y="604.6" width="1.3" height="0.8" fill="#f58cb0" stroke="#c8205f" stroke-width="0.75"/><rect x="916.65" y="604.6" width="1.3" height="0.8" fill="#f58cb0" stroke="#c8205f" stroke-width="0.75"/><rect x="920.11" y="604.3" width="1.3" height="1.1" fill="#f58cb0" stroke="#c8205f" stroke-width="0.75"/><rect x="923.56" y="604.1" width="1.3" height="1.2" fill="#f58cb0" stroke="#c8205f" stroke-width="0.75"/><rect x="927.02" y="604.3" width="1.3" height="1.1" fill="#f58cb0" stroke="#c8205f" stroke-width="0.75"/><rect x="930.47" y="589.8" width="1.3" height="15.6" fill="#f58cb0" stroke="#c8205f" stroke-width="0.75"/></g>
<path d="M88.3 664.4 L91.3 681.0 L94.6 676.9 L97.9 689.3 L101.2 685.2 L104.9 686.0 L108.6 683.8 L112.4 686.0 L115.7 686.8 L119.0 695.1 L122.3 684.3 L125.7 687.7 L129.0 697.6 L132.3 717.5 L135.6 730.8 L138.4 735.8 L140.6 734.1 L143.4 723.4 L146.4 725.0 L150.6 726.7 L153.9 710.9 L158.0 697.6 L161.3 682.7 L164.3 660.3 L167.2 659.4 L170.5 658.6 L173.8 652.8 L177.9 652.0 L181.6 649.8 L184.9 667.7 L188.2 683.5 L191.6 676.0 L194.9 681.9 L198.7 676.9 L202.8 677.7 L207.0 684.3 L211.1 691.0 L217.8 692.6 L224.4 692.6 L231.1 692.6 L236.0 691.0 L239.7 684.3 L241.0 669.4 L244.3 660.8 L246.8 661.9 L249.1 676.0 L253.3 676.9 L256.6 666.9 L260.8 656.1 L264.1 651.1 L267.4 660.3 L270.7 660.3 L274.0 663.6 L278.2 659.4 L281.5 665.3 L284.8 670.2 L288.1 666.9 L291.5 665.3 L295.6 673.6 L298.9 673.6 L302.3 659.4 L305.6 675.2 L308.9 672.7 L312.2 660.3 L315.5 672.7 L319.7 684.3 L323.0 686.8 L326.3 681.0 L330.5 669.4 L333.0 679.4 L335.5 652.8 L337.1 630.9 L339.6 637.9 L343.8 667.7 L347.6 637.9 L350.4 647.0 L354.2 648.7 L357.9 671.1 L360.8 660.3 L364.8 685.2 L368.2 666.1 L372.0 671.9 L375.3 689.3 L378.6 704.3 L381.9 715.9 L385.3 699.3 L388.6 684.3 L391.9 681.9 L395.2 674.4 L398.5 673.6 L400.0 672.7 L403.3 671.9 L406.6 676.9 L410.0 684.3 L413.3 678.5 L416.6 673.6 L419.9 679.4 L424.1 679.4 L426.6 669.4 L429.9 665.7 L433.2 673.6 L436.9 668.6 L440.7 676.9 L444.0 668.6 L448.1 671.9 L452.3 669.4 L456.4 671.9 L460.6 682.7 L463.9 686.0 L468.1 686.8 L471.4 693.5 L474.7 699.3 L478.9 702.6 L482.2 703.4 L485.5 707.6 L488.8 705.9 L492.1 710.1 L496.3 713.4 L499.6 716.7 L502.9 725.5 L506.2 700.9 L510.4 700.9 L512.9 698.9 L516.2 700.9 L519.5 703.4 L523.7 703.1 L527.8 700.1 L533.6 700.1 L537.0 711.7 L540.3 715.1 L543.6 710.9 L547.7 717.5 L552.7 725.0 L557.7 731.2 L559.4 719.2 L561.7 709.2 L565.0 715.9 L570.8 715.9 L575.8 726.7 L580.8 729.2 L585.7 718.4 L589.1 728.3 L593.2 730.0 L599.0 735.8 L602.3 719.2 L606.5 696.0 L609.8 700.9 L613.1 693.5 L616.4 687.7 L620.6 674.4 L623.9 673.6 L627.2 662.8 L631.0 684.3 L634.4 657.8 L638.0 654.5 L641.3 646.2 L644.7 637.9 L648.0 633.7 L651.0 626.2 L654.6 648.7 L657.9 638.7 L661.3 637.9 L664.9 624.6 L667.9 622.9 L674.5 622.6 L679.5 616.3 L683.7 610.5 L686.2 604.7 L689.5 634.5 L692.8 633.7 L696.5 627.9 L700.3 660.3 L703.6 666.9 L706.9 665.3 L710.2 663.6 L713.6 654.5 L716.9 639.5 L720.0 651.1 L723.3 647.0 L726.6 653.6 L730.3 650.3 L734.1 657.0 L737.9 641.2 L741.6 659.4 L744.9 668.6 L751.5 668.6 L755.2 665.3 L758.5 683.5 L763.2 688.5 L769.0 693.5 L772.3 692.6 L776.4 699.3 L778.9 700.1 L782.3 696.8 L786.4 706.8 L789.7 708.4 L793.0 703.4 L796.4 708.4 L799.7 701.8 L803.0 695.1 L806.3 703.4 L810.5 698.5 L814.6 693.5 L817.1 693.5 L820.4 698.5 L823.8 681.9 L827.9 681.0 L831.2 691.8 L834.5 688.5 L838.7 695.1 L842.8 700.9 L845.3 700.6 L848.7 695.1 L850.0 697.6 L855.0 706.8 L861.6 715.9 L868.6 720.0 L872.7 706.3 L879.5 718.9 L883.2 706.3 L889.8 720.0 L893.2 710.9 L896.5 692.6 L899.8 691.0 L904.8 705.9 L910.6 720.9 L917.2 706.3 L921.0 714.6 L925.5 700.9 L928.4 680.2 L931.3 652.8" fill="none" stroke="#5e9aa3" stroke-width="1.1" stroke-linejoin="round" stroke-linecap="round" opacity="1"/>
<path d="M88.3 689.3 L91.3 692.6 L94.6 691.8 L97.9 694.3 L101.2 693.5 L104.9 693.5 L108.6 693.0 L112.4 693.5 L115.7 693.5 L119.0 694.6 L122.3 692.6 L125.7 693.1 L129.0 696.8 L132.3 702.6 L135.6 707.6 L138.9 710.1 L143.1 707.2 L146.4 707.9 L150.6 708.4 L153.9 705.1 L158.0 700.1 L161.3 693.5 L164.3 686.0 L167.2 685.2 L170.5 684.3 L173.8 681.9 L177.9 681.4 L181.6 680.2 L186.2 686.0 L192.9 684.3 L199.5 686.0 L207.0 686.8 L217.8 686.8 L229.4 686.0 L236.0 686.8 L240.2 684.3 L241.9 681.0 L244.3 680.2 L247.7 682.7 L250.0 686.0 L254.9 684.3 L258.3 679.4 L264.1 674.7 L269.1 676.9 L274.0 678.0 L279.0 676.0 L284.0 678.5 L289.0 677.7 L294.0 678.5 L298.9 678.5 L303.1 676.0 L306.4 679.4 L312.2 674.7 L316.4 677.7 L319.7 680.7 L324.7 681.0 L330.5 676.9 L333.0 679.4 L335.5 662.8 L337.6 656.5 L340.4 661.9 L343.8 671.1 L347.6 654.5 L350.9 657.0 L354.5 658.6 L357.9 671.1 L360.8 664.4 L364.8 676.0 L368.2 666.1 L372.0 671.1 L375.3 684.3 L378.6 693.5 L381.9 700.9 L385.3 692.6 L388.6 684.3 L391.9 682.7 L395.2 676.9 L398.5 676.0 L400.0 676.0 L403.3 675.7 L406.6 678.5 L410.0 682.7 L413.3 679.4 L416.6 676.9 L419.9 679.7 L424.1 679.7 L426.6 676.0 L429.9 674.0 L433.2 676.9 L436.9 675.2 L440.7 677.4 L444.0 675.2 L448.1 675.2 L452.3 674.4 L456.4 675.5 L460.6 679.0 L463.9 679.7 L468.1 680.2 L471.4 682.3 L474.7 683.5 L478.9 684.7 L482.2 685.2 L485.5 686.3 L488.8 686.0 L492.1 687.3 L496.3 689.0 L499.6 690.2 L502.9 692.6 L506.2 688.5 L510.4 688.0 L512.9 687.3 L516.2 688.0 L519.5 688.5 L523.7 688.5 L527.8 688.2 L533.6 688.2 L537.0 690.2 L540.3 691.0 L543.6 690.6 L547.7 692.3 L552.7 694.0 L557.7 696.0 L560.0 693.5 L565.0 694.3 L570.8 694.6 L575.8 698.0 L580.8 698.9 L585.7 697.6 L589.1 700.1 L593.2 701.8 L599.0 703.4 L602.3 700.9 L606.5 695.1 L609.8 697.3 L613.1 695.1 L616.4 693.5 L620.6 690.6 L623.9 689.7 L627.2 687.3 L631.0 691.0 L634.4 683.5 L638.0 681.9 L641.3 678.5 L644.7 674.0 L648.0 671.1 L651.0 666.1 L654.6 671.1 L657.9 666.1 L661.3 664.8 L664.9 656.1 L667.9 654.1 L674.5 652.8 L679.5 648.7 L683.7 641.2 L686.2 635.4 L689.5 647.8 L692.8 646.2 L696.5 642.5 L700.3 657.8 L703.6 661.4 L706.9 661.4 L710.2 660.8 L713.6 656.1 L716.9 648.7 L720.0 653.6 L723.3 652.0 L726.6 654.8 L730.3 653.1 L734.1 656.1 L737.9 650.3 L741.6 658.6 L744.9 661.9 L751.5 661.9 L755.2 660.8 L758.5 668.6 L763.2 671.1 L769.0 674.0 L772.3 673.6 L776.4 676.0 L778.9 676.4 L782.3 675.7 L786.4 680.2 L789.7 680.7 L793.0 679.7 L796.4 681.9 L799.7 680.2 L803.0 679.0 L806.3 682.3 L810.5 680.7 L814.6 679.7 L817.1 679.7 L820.4 681.4 L823.8 677.4 L827.9 676.9 L831.2 680.7 L834.5 679.7 L838.7 681.9 L842.8 684.0 L845.3 684.0 L848.7 683.0 L850.0 683.5 L855.0 686.0 L861.6 689.0 L868.6 690.2 L872.7 688.5 L879.5 691.8 L883.2 689.7 L889.8 694.0 L893.2 692.6 L896.5 689.0 L899.8 688.5 L904.8 692.6 L910.6 698.5 L917.2 694.3 L921.0 697.6 L925.5 694.0 L928.4 687.7 L931.3 674.4" fill="none" stroke="#c41e5c" stroke-width="1.5" stroke-linejoin="round" stroke-linecap="round" opacity="1"/>
<line x1="85" y1="88.0" x2="85" y2="736.4" stroke="#3c3c3c" stroke-width="1.5"/>
<line x1="934.5" y1="88.0" x2="934.5" y2="736.4" stroke="#1c1c1c" stroke-width="1.1"/>
<line x1="85" y1="474.3" x2="934.5" y2="474.3" stroke="#4a4a4a" stroke-width="1.4"/>
<line x1="85" y1="605.4" x2="934.5" y2="605.4" stroke="#7a3049" stroke-width="1.2"/>
<line x1="85" y1="735.8" x2="934.5" y2="735.8" stroke="#2a2a2a" stroke-width="1.3"/>
<path d="M82.8 152.5H85M82.8 217H85M82.8 281.3H85M82.8 345.6H85M82.8 410.2H85M82.8 518H85M82.8 562H85M82.8 649H85M82.8 694H85" stroke="#3c3c3c" stroke-width="1"/>
<text x="84.5" y="42.1" font-size="36.2" textLength="65.15" lengthAdjust="spacingAndGlyphs" fill="#111" stroke="#111" stroke-width="0.65">1810</text>
<text x="170.0" y="42.5" font-size="31.06" textLength="140.03" lengthAdjust="spacingAndGlyphs" fill="#111" stroke="#111" stroke-width="0.45">和成欣業</text>
<text x="321.5" y="42.1" font-size="36.2" textLength="125.08" lengthAdjust="spacingAndGlyphs" fill="#111" stroke="#111" stroke-width="0.65">1141126(</text>
<text x="443.0" y="43.5" font-size="32.17" textLength="108.7" lengthAdjust="spacingAndGlyphs" fill="#111" stroke="#111" stroke-width="0.45">日線圖</text>
<text x="550.0" y="42.1" font-size="36.2" textLength="8.87" lengthAdjust="spacingAndGlyphs" fill="#111" stroke="#111" stroke-width="0.65">)</text>
<text x="804.0" y="45.0" font-size="30.0" textLength="131.07" lengthAdjust="spacingAndGlyphs" fill="#111" stroke="#111" stroke-width="0.45">時報資訊</text>
<text x="83.2" y="75.75" font-size="30.18" textLength="32.78" lengthAdjust="spacingAndGlyphs" fill="#111" stroke="#111" stroke-width="0.45">開</text>
<text x="117.0" y="78.1" font-size="36.3" textLength="76.35" lengthAdjust="spacingAndGlyphs" fill="#111" stroke="#111" stroke-width="0.65">:17.25</text>
<text x="203.35" y="77.75" font-size="28.99" textLength="31.78" lengthAdjust="spacingAndGlyphs" fill="#111" stroke="#111" stroke-width="0.45">高</text>
<text x="234.85" y="78.1" font-size="36.3" textLength="77.61" lengthAdjust="spacingAndGlyphs" fill="#111" stroke="#111" stroke-width="0.65">:18.75</text>
<text x="320.35" y="76.75" font-size="30.03" textLength="34.16" lengthAdjust="spacingAndGlyphs" fill="#111" stroke="#111" stroke-width="0.45">低</text>
<text x="353.0" y="78.1" font-size="36.3" textLength="77.13" lengthAdjust="spacingAndGlyphs" fill="#111" stroke="#111" stroke-width="0.65">:17.25</text>
<text x="438.7" y="76.75" font-size="30.03" textLength="32.21" lengthAdjust="spacingAndGlyphs" fill="#111" stroke="#111" stroke-width="0.45">收</text>
<text x="472.0" y="78.1" font-size="36.3" textLength="76.35" lengthAdjust="spacingAndGlyphs" fill="#111" stroke="#111" stroke-width="0.65">:18.75</text>
<text x="557.2" y="77.2" font-size="30.73" textLength="33.88" lengthAdjust="spacingAndGlyphs" fill="#111" stroke="#111" stroke-width="0.45">量</text>
<text x="590.75" y="78.1" font-size="36.3" textLength="67.8" lengthAdjust="spacingAndGlyphs" fill="#111" stroke="#111" stroke-width="0.65">:5084</text>
<text x="667.5" y="76.75" font-size="28.99" textLength="33.96" lengthAdjust="spacingAndGlyphs" fill="#111" stroke="#111" stroke-width="0.45">漲</text>
<text x="709.85" y="78.1" font-size="36.3" textLength="36.62" lengthAdjust="spacingAndGlyphs" fill="#111" stroke="#111" stroke-width="0.65">1.7</text>
<text x="38.2" y="110.3" font-size="29" textLength="44.08" lengthAdjust="spacingAndGlyphs" fill="#111" stroke="#111" stroke-width="0.62">27.4</text>
<text x="38.2" y="161.7" font-size="29" textLength="44.08" lengthAdjust="spacingAndGlyphs" fill="#111" stroke="#111" stroke-width="0.62">24.8</text>
<text x="38.2" y="226.7" font-size="29" textLength="44.08" lengthAdjust="spacingAndGlyphs" fill="#111" stroke="#111" stroke-width="0.62">22.3</text>
<text x="39.2" y="290.7" font-size="29" textLength="43.49" lengthAdjust="spacingAndGlyphs" fill="#111" stroke="#111" stroke-width="0.62">19.8</text>
<text x="39.2" y="355.1" font-size="29" textLength="43.49" lengthAdjust="spacingAndGlyphs" fill="#111" stroke="#111" stroke-width="0.62">17.2</text>
<text x="38.7" y="419.3" font-size="29" textLength="43.43" lengthAdjust="spacingAndGlyphs" fill="#111" stroke="#111" stroke-width="0.62">14.7</text>
<text x="39.8" y="470.4" font-size="29" textLength="41.69" lengthAdjust="spacingAndGlyphs" fill="#111" stroke="#111" stroke-width="0.62">12.1</text>
<text x="20.25" y="496.7" font-size="29" textLength="62.77" lengthAdjust="spacingAndGlyphs" fill="#111" stroke="#111" stroke-width="0.62">41560</text>
<text x="20.75" y="527.2" font-size="29" textLength="62.03" lengthAdjust="spacingAndGlyphs" fill="#111" stroke="#111" stroke-width="0.62">27746</text>
<text x="20.7" y="571.0" font-size="29" textLength="61.91" lengthAdjust="spacingAndGlyphs" fill="#111" stroke="#111" stroke-width="0.62">13933</text>
<text x="46.15" y="601.6" font-size="29" textLength="37.26" lengthAdjust="spacingAndGlyphs" fill="#111" stroke="#111" stroke-width="0.62">119</text>
<text x="57.15" y="628.3" font-size="29" textLength="26.21" lengthAdjust="spacingAndGlyphs" fill="#111" stroke="#111" stroke-width="0.62">93</text>
<text x="57.15" y="657.8" font-size="29" textLength="26.21" lengthAdjust="spacingAndGlyphs" fill="#111" stroke="#111" stroke-width="0.62">68</text>
<text x="58.15" y="701.6" font-size="29" textLength="25.16" lengthAdjust="spacingAndGlyphs" fill="#111" stroke="#111" stroke-width="0.62">42</text>
<text x="58.15" y="732.0" font-size="29" textLength="24.87" lengthAdjust="spacingAndGlyphs" fill="#111" stroke="#111" stroke-width="0.62">17</text>
<text x="89.75" y="763.2" font-size="29" textLength="24.79" lengthAdjust="spacingAndGlyphs" fill="#111" stroke="#111" stroke-width="0.62">12</text>
<text x="89.75" y="789.5" font-size="29" textLength="37.18" lengthAdjust="spacingAndGlyphs" fill="#111" stroke="#111" stroke-width="0.62">113</text>
<text x="172.25" y="789.5" font-size="29" textLength="36.12" lengthAdjust="spacingAndGlyphs" fill="#111" stroke="#111" stroke-width="0.62">114</text>
<text x="719.5" y="128.7" font-size="29" textLength="43.29" lengthAdjust="spacingAndGlyphs" fill="#111" stroke="#111" stroke-width="0.62">25.6</text>
<text x="353.2" y="452.2" font-size="29" textLength="57.35" lengthAdjust="spacingAndGlyphs" fill="#111" stroke="#111" stroke-width="0.62">04/09</text>
<text x="87.7" y="500.0" font-size="22.67" textLength="79.37" lengthAdjust="spacingAndGlyphs" fill="#c41e5c" stroke="#c41e5c" stroke-width="0.3">成交量</text>
<text x="166.8" y="498.8" font-size="27.7" textLength="8.84" lengthAdjust="spacingAndGlyphs" fill="#c41e5c" stroke="#c41e5c" stroke-width="0.3">(</text>
<text x="175.5" y="501.0" font-size="24.64" textLength="27.17" lengthAdjust="spacingAndGlyphs" fill="#c41e5c" stroke="#c41e5c" stroke-width="0.3">張</text>
<text x="202.0" y="498.8" font-size="27.7" textLength="8.21" lengthAdjust="spacingAndGlyphs" fill="#c41e5c" stroke="#c41e5c" stroke-width="0.3">)</text>
<rect x="171.5" y="422" width="139" height="51.5" fill="#fff"/>
<line x1="88" y1="435.6" x2="172" y2="435.6" stroke="#e9adc0" stroke-width="1.1"/>
<line x1="88" y1="461.3" x2="172" y2="461.3" stroke="#bccbcc" stroke-width="1.1"/>
<rect x="171.5" y="684" width="139" height="51" fill="#fff"/>
<line x1="88" y1="697.6" x2="172" y2="697.6" stroke="#dc7f9b" stroke-width="1.2"/>
<line x1="88" y1="723.4" x2="172" y2="723.4" stroke="#bccbcc" stroke-width="1.1"/>
<text x="171.9" y="445.4" font-size="26.8" textLength="137.6" lengthAdjust="spacingAndGlyphs" fill="#c41e5c" stroke="#c41e5c" stroke-width="0.35">MA30(17.87)</text>
<text x="171.9" y="470.9" font-size="26.8" textLength="137.6" lengthAdjust="spacingAndGlyphs" fill="#2a8ea6" stroke="#2a8ea6" stroke-width="0.35">MA10(17.12)</text>
<text x="172.2" y="706" font-size="26.8" textLength="137.3" lengthAdjust="spacingAndGlyphs" fill="#c41e5c" stroke="#c41e5c" stroke-width="0.35">RSI30(52.12)</text>
<text x="172.2" y="731.7" font-size="26.8" textLength="137.3" lengthAdjust="spacingAndGlyphs" fill="#2a8ea6" stroke="#2a8ea6" stroke-width="0.35">RSI10(65.76)</text>
<rect x="711" y="82" width="60" height="22" fill="#fff"/>
<text x="712.2" y="102.8" font-size="29" textLength="57.57" lengthAdjust="spacingAndGlyphs" fill="#111" stroke="#111" stroke-width="0.5">09/04</text>
<rect x="359.5" y="458" width="45" height="22" fill="#fff"/>
<text x="360.0" y="478.8" font-size="29" textLength="44.24" lengthAdjust="spacingAndGlyphs" fill="#111" stroke="#111" stroke-width="0.5">13.9</text>
<path d="M88.10 735.8v2.4M91.55 735.8v2.4M95.01 735.8v2.4M98.46 735.8v2.4M101.92 735.8v4.6M105.38 735.8v2.4M108.83 735.8v2.4M112.28 735.8v2.4M115.74 735.8v2.4M119.19 735.8v2.4M122.65 735.8v2.4M126.10 735.8v2.4M129.56 735.8v2.4M133.01 735.8v2.4M136.47 735.8v2.4M139.93 735.8v2.4M143.38 735.8v2.4M146.83 735.8v2.4M150.29 735.8v2.4M153.75 735.8v2.4M157.20 735.8v2.4M160.66 735.8v2.4M164.11 735.8v2.4M167.56 735.8v2.4M171.02 735.8v2.4M174.47 735.8v2.4M177.93 735.8v4.6M181.38 735.8v2.4M184.84 735.8v2.4M188.30 735.8v2.4M191.75 735.8v2.4M195.20 735.8v2.4M198.66 735.8v2.4M202.12 735.8v2.4M205.57 735.8v2.4M209.02 735.8v2.4M212.48 735.8v2.4M215.94 735.8v2.4M219.39 735.8v2.4M222.84 735.8v2.4M226.30 735.8v2.4M229.75 735.8v4.6M233.21 735.8v2.4M236.66 735.8v2.4M240.12 735.8v2.4M243.57 735.8v2.4M247.03 735.8v2.4M250.48 735.8v2.4M253.94 735.8v2.4M257.39 735.8v2.4M260.85 735.8v2.4M264.31 735.8v2.4M267.76 735.8v2.4M271.22 735.8v2.4M274.67 735.8v2.4M278.12 735.8v2.4M281.58 735.8v2.4M285.03 735.8v2.4M288.49 735.8v2.4M291.94 735.8v2.4M295.40 735.8v4.6M298.86 735.8v2.4M302.31 735.8v2.4M305.76 735.8v2.4M309.22 735.8v2.4M312.68 735.8v2.4M316.13 735.8v2.4M319.59 735.8v2.4M323.04 735.8v2.4M326.50 735.8v2.4M329.95 735.8v2.4M333.40 735.8v2.4M336.86 735.8v2.4M340.31 735.8v2.4M343.77 735.8v2.4M347.23 735.8v2.4M350.68 735.8v2.4M354.13 735.8v2.4M357.59 735.8v2.4M361.04 735.8v2.4M364.50 735.8v2.4M367.96 735.8v4.6M371.41 735.8v2.4M374.87 735.8v2.4M378.32 735.8v2.4M381.77 735.8v2.4M385.23 735.8v2.4M388.68 735.8v2.4M392.14 735.8v2.4M395.60 735.8v2.4M399.05 735.8v2.4M402.50 735.8v2.4M405.96 735.8v2.4M409.41 735.8v2.4M412.87 735.8v2.4M416.33 735.8v2.4M419.78 735.8v2.4M423.24 735.8v2.4M426.69 735.8v2.4M430.14 735.8v2.4M433.60 735.8v2.4M437.05 735.8v4.6M440.51 735.8v2.4M443.97 735.8v2.4M447.42 735.8v2.4M450.88 735.8v2.4M454.33 735.8v2.4M457.78 735.8v2.4M461.24 735.8v2.4M464.70 735.8v2.4M468.15 735.8v2.4M471.61 735.8v2.4M475.06 735.8v2.4M478.51 735.8v2.4M481.97 735.8v2.4M485.42 735.8v2.4M488.88 735.8v2.4M492.34 735.8v2.4M495.79 735.8v2.4M499.25 735.8v2.4M502.70 735.8v2.4M506.15 735.8v4.6M509.61 735.8v2.4M513.07 735.8v2.4M516.52 735.8v2.4M519.98 735.8v2.4M523.43 735.8v2.4M526.88 735.8v2.4M530.34 735.8v2.4M533.79 735.8v2.4M537.25 735.8v2.4M540.71 735.8v2.4M544.16 735.8v2.4M547.62 735.8v2.4M551.07 735.8v2.4M554.52 735.8v2.4M557.98 735.8v2.4M561.44 735.8v2.4M564.89 735.8v2.4M568.35 735.8v2.4M571.80 735.8v2.4M575.25 735.8v2.4M578.71 735.8v4.6M582.16 735.8v2.4M585.62 735.8v2.4M589.08 735.8v2.4M592.53 735.8v2.4M595.99 735.8v2.4M599.44 735.8v2.4M602.89 735.8v2.4M606.35 735.8v2.4M609.81 735.8v2.4M613.26 735.8v2.4M616.72 735.8v2.4M620.17 735.8v2.4M623.62 735.8v2.4M627.08 735.8v2.4M630.54 735.8v2.4M633.99 735.8v2.4M637.45 735.8v2.4M640.90 735.8v2.4M644.36 735.8v2.4M647.81 735.8v2.4M651.26 735.8v2.4M654.72 735.8v2.4M658.18 735.8v4.6M661.63 735.8v2.4M665.09 735.8v2.4M668.54 735.8v2.4M672.00 735.8v2.4M675.45 735.8v2.4M678.91 735.8v2.4M682.36 735.8v2.4M685.82 735.8v2.4M689.27 735.8v2.4M692.73 735.8v2.4M696.18 735.8v2.4M699.63 735.8v2.4M703.09 735.8v2.4M706.55 735.8v2.4M710.00 735.8v2.4M713.46 735.8v2.4M716.91 735.8v2.4M720.37 735.8v2.4M723.82 735.8v2.4M727.28 735.8v2.4M730.73 735.8v4.6M734.19 735.8v2.4M737.64 735.8v2.4M741.10 735.8v2.4M744.55 735.8v2.4M748.00 735.8v2.4M751.46 735.8v2.4M754.92 735.8v2.4M758.37 735.8v2.4M761.83 735.8v2.4M765.28 735.8v2.4M768.74 735.8v2.4M772.19 735.8v2.4M775.64 735.8v2.4M779.10 735.8v2.4M782.56 735.8v2.4M786.01 735.8v2.4M789.47 735.8v2.4M792.92 735.8v2.4M796.38 735.8v2.4M799.83 735.8v2.4M803.29 735.8v4.6M806.74 735.8v2.4M810.20 735.8v2.4M813.65 735.8v2.4M817.11 735.8v2.4M820.56 735.8v2.4M824.01 735.8v2.4M827.47 735.8v2.4M830.93 735.8v2.4M834.38 735.8v2.4M837.84 735.8v2.4M841.29 735.8v2.4M844.75 735.8v2.4M848.20 735.8v2.4M851.66 735.8v2.4M855.11 735.8v2.4M858.57 735.8v2.4M862.02 735.8v2.4M865.48 735.8v2.4M868.93 735.8v2.4M872.38 735.8v4.6M875.84 735.8v2.4M879.30 735.8v2.4M882.75 735.8v2.4M886.21 735.8v2.4M889.66 735.8v2.4M893.12 735.8v2.4M896.57 735.8v2.4M900.03 735.8v2.4M903.48 735.8v2.4M906.94 735.8v2.4M910.39 735.8v2.4M913.85 735.8v2.4M917.30 735.8v2.4M920.75 735.8v2.4M924.21 735.8v2.4M927.67 735.8v2.4M931.12 735.8v4.6" stroke="#222" stroke-width="1.1"/>
<text x="178.2" y="763.5" font-size="29" text-anchor="middle" textLength="12.8" lengthAdjust="spacingAndGlyphs" fill="#111" stroke="#111" stroke-width="0.5">1</text>
<text x="230.1" y="763.5" font-size="29" text-anchor="middle" textLength="12.8" lengthAdjust="spacingAndGlyphs" fill="#111" stroke="#111" stroke-width="0.5">2</text>
<text x="295.7" y="763.5" font-size="29" text-anchor="middle" textLength="12.8" lengthAdjust="spacingAndGlyphs" fill="#111" stroke="#111" stroke-width="0.5">3</text>
<text x="368.3" y="763.5" font-size="29" text-anchor="middle" textLength="12.8" lengthAdjust="spacingAndGlyphs" fill="#111" stroke="#111" stroke-width="0.5">4</text>
<text x="437.4" y="763.5" font-size="29" text-anchor="middle" textLength="12.8" lengthAdjust="spacingAndGlyphs" fill="#111" stroke="#111" stroke-width="0.5">5</text>
<text x="506.5" y="763.5" font-size="29" text-anchor="middle" textLength="12.8" lengthAdjust="spacingAndGlyphs" fill="#111" stroke="#111" stroke-width="0.5">6</text>
<text x="579.0" y="763.5" font-size="29" text-anchor="middle" textLength="12.8" lengthAdjust="spacingAndGlyphs" fill="#111" stroke="#111" stroke-width="0.5">7</text>
<text x="658.5" y="763.5" font-size="29" text-anchor="middle" textLength="12.8" lengthAdjust="spacingAndGlyphs" fill="#111" stroke="#111" stroke-width="0.5">8</text>
<text x="731.0" y="763.5" font-size="29" text-anchor="middle" textLength="12.8" lengthAdjust="spacingAndGlyphs" fill="#111" stroke="#111" stroke-width="0.5">9</text>
<text x="804.2" y="763.5" font-size="29" text-anchor="middle" textLength="23.2" lengthAdjust="spacingAndGlyphs" fill="#111" stroke="#111" stroke-width="0.5">10</text>
<text x="872.4" y="763.5" font-size="29" text-anchor="middle" textLength="24.5" lengthAdjust="spacingAndGlyphs" fill="#111" stroke="#111" stroke-width="0.5">11</text>
<text x="931.8" y="763.5" font-size="29" text-anchor="middle" textLength="56.8" lengthAdjust="spacingAndGlyphs" fill="#111" stroke="#111" stroke-width="0.5">11/26</text>
</svg>
</body></html>
